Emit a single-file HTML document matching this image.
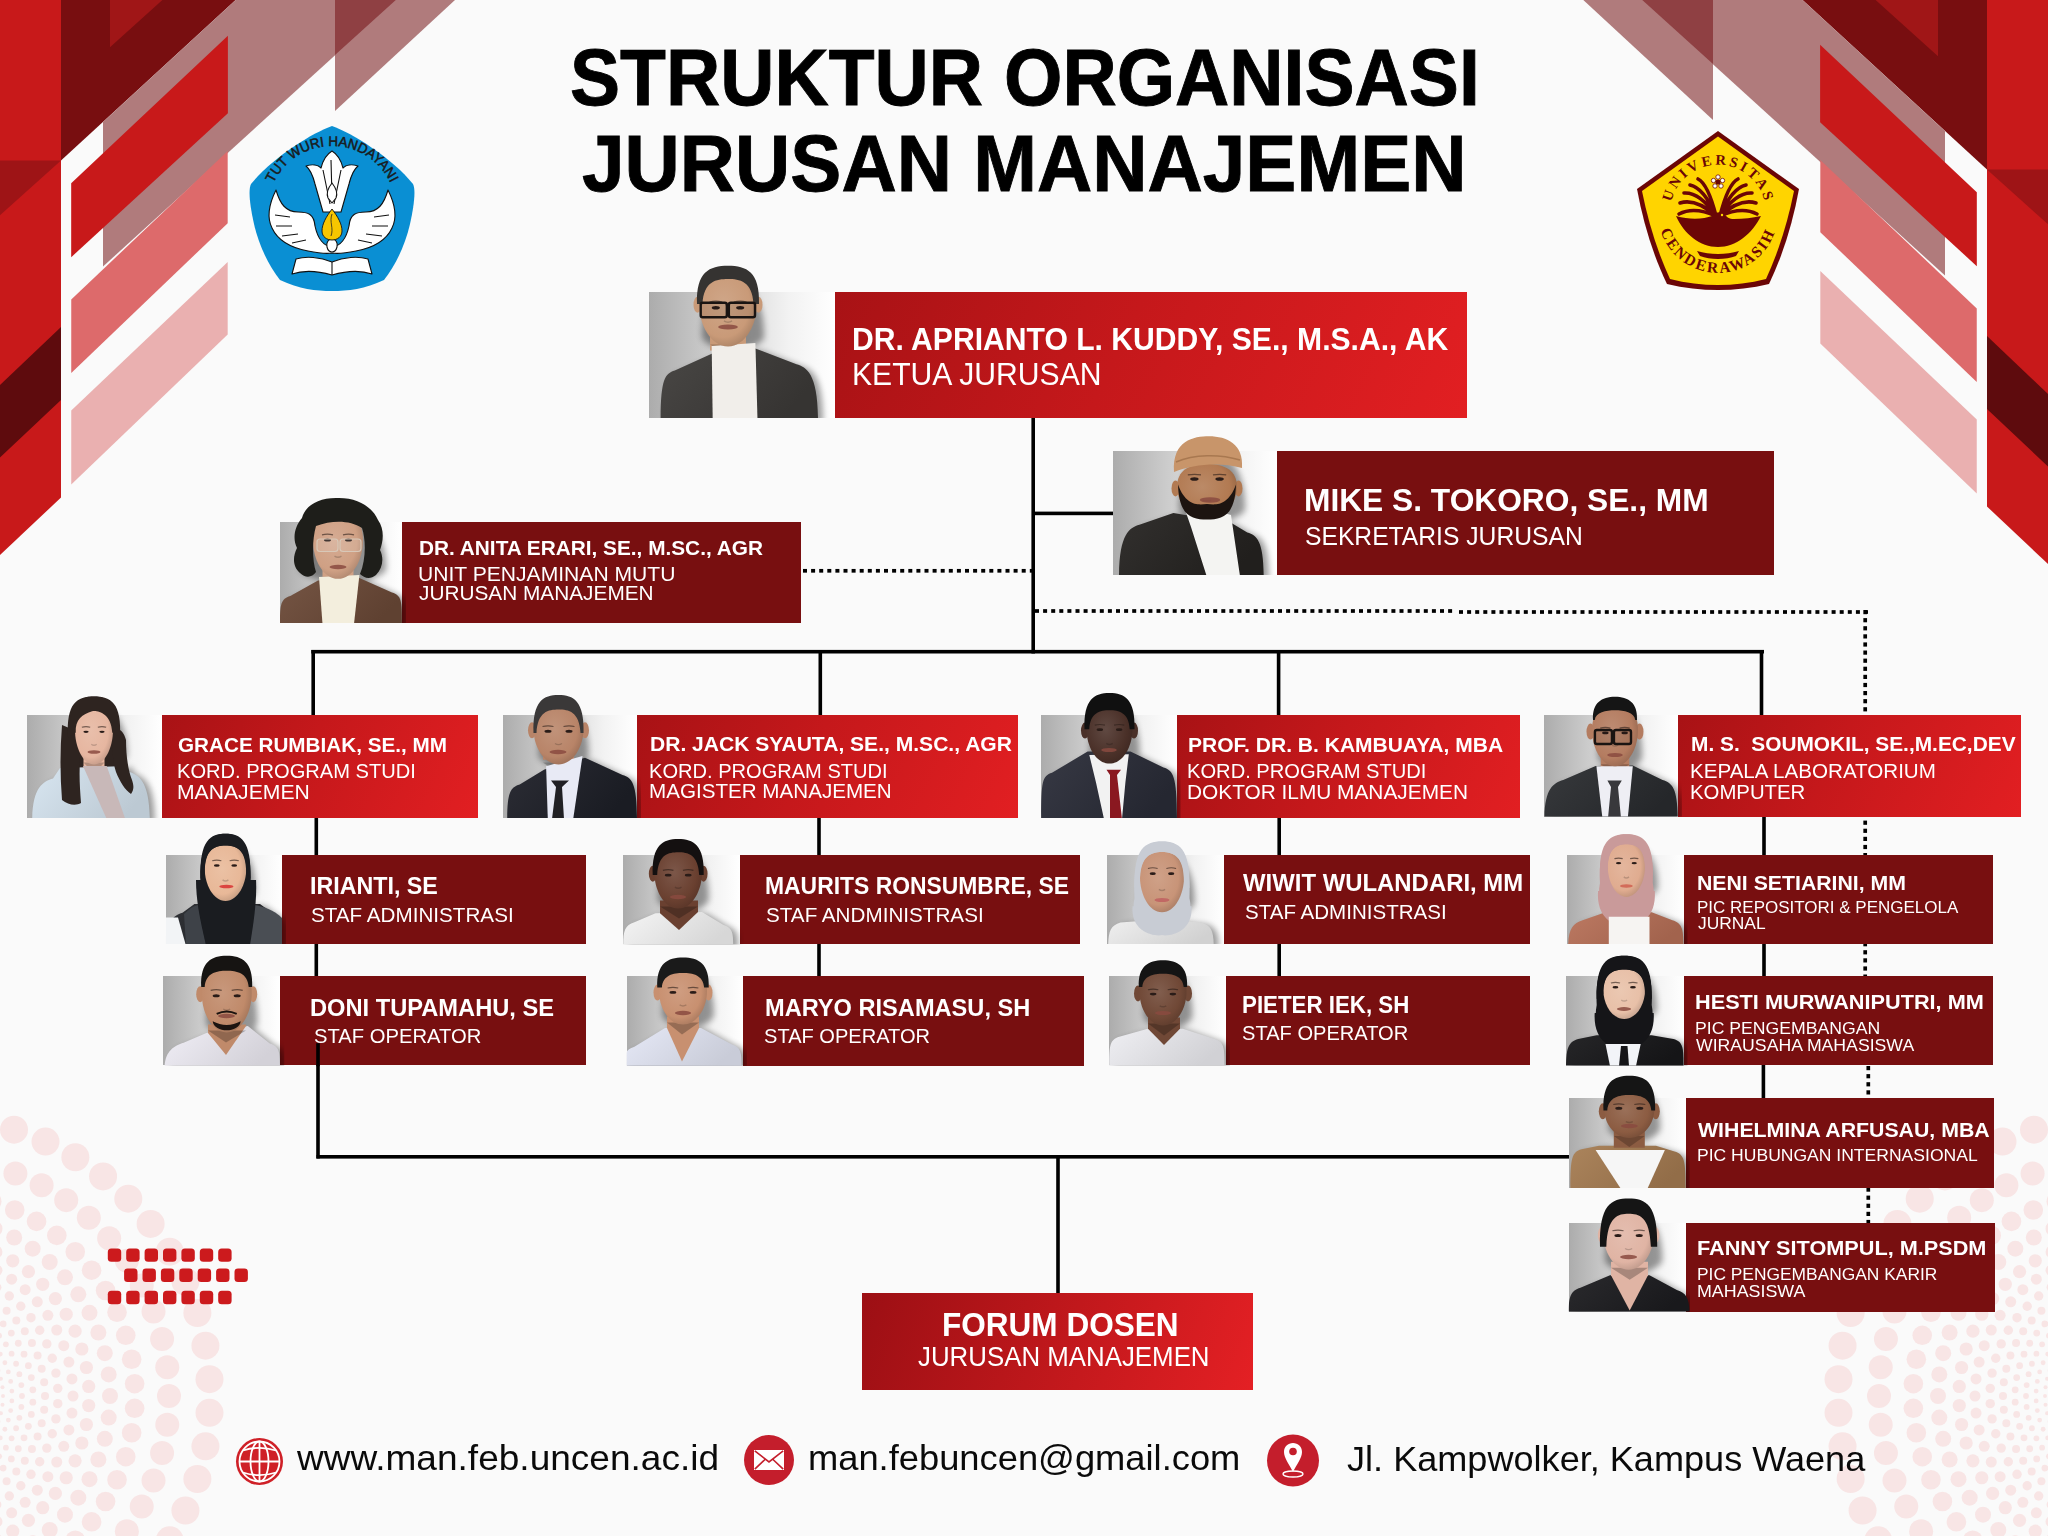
<!DOCTYPE html>
<html><head><meta charset="utf-8"><title>Struktur Organisasi Jurusan Manajemen</title>
<style>
*{margin:0;padding:0;box-sizing:border-box}
html,body{width:2048px;height:1536px;overflow:hidden;background:#FAFAFA}
body{position:relative;font-family:"Liberation Sans",sans-serif}
.ph,.bg,.bd,.t{position:absolute}
.ph{background:linear-gradient(90deg,#ACACAC 0%,#C9C9C9 30%,#F2F2F2 75%,#FFFFFF 100%)}
.bg{background:linear-gradient(115deg,#A81215 0%,#C5181B 45%,#E21F22 100%)}
.bd{background:#780F10}
.t{white-space:nowrap;transform-origin:0 0;font-weight:400}
.b{font-weight:700}
.tt{-webkit-text-stroke:0.9px #000}
svg{position:absolute;left:0;top:0;overflow:visible}
</style></head><body>
<svg width="2048" height="1536" viewBox="0 0 2048 1536">
<defs><filter id="shblur" x="-20%" y="-20%" width="140%" height="140%"><feGaussianBlur stdDeviation="3"/></filter></defs>
<g fill="#F8E5E5"><circle cx="3" cy="1396" r="2"/><circle cx="2.48" cy="1404.68" r="2"/><circle cx="0.91" cy="1413.23" r="2"/><circle cx="-1.68" cy="1421.53" r="2"/><circle cx="-5.25" cy="1429.46" r="2"/><circle cx="-9.75" cy="1436.9" r="2"/><circle cx="-15.11" cy="1443.74" r="2"/><circle cx="-15.11" cy="1348.26" r="2"/><circle cx="-9.75" cy="1355.1" r="2"/><circle cx="-5.25" cy="1362.54" r="2"/><circle cx="-1.68" cy="1370.47" r="2"/><circle cx="0.91" cy="1378.77" r="2"/><circle cx="2.48" cy="1387.32" r="2"/><circle cx="11.85" cy="1400.89" r="2.4"/><circle cx="10.67" cy="1410.6" r="2.4"/><circle cx="8.33" cy="1420.1" r="2.4"/><circle cx="4.86" cy="1429.24" r="2.4"/><circle cx="0.32" cy="1437.9" r="2.4"/><circle cx="-5.24" cy="1445.95" r="2.4"/><circle cx="-11.72" cy="1453.28" r="2.4"/><circle cx="-19.05" cy="1459.76" r="2.4"/><circle cx="-19.05" cy="1332.24" r="2.4"/><circle cx="-11.72" cy="1338.72" r="2.4"/><circle cx="-5.24" cy="1346.05" r="2.4"/><circle cx="0.32" cy="1354.1" r="2.4"/><circle cx="4.86" cy="1362.76" r="2.4"/><circle cx="8.33" cy="1371.9" r="2.4"/><circle cx="10.67" cy="1381.4" r="2.4"/><circle cx="11.85" cy="1391.11" r="2.4"/><circle cx="22" cy="1396" r="2.9"/><circle cx="21.34" cy="1406.97" r="2.9"/><circle cx="19.36" cy="1417.78" r="2.9"/><circle cx="16.09" cy="1428.27" r="2.9"/><circle cx="11.58" cy="1438.29" r="2.9"/><circle cx="5.89" cy="1447.69" r="2.9"/><circle cx="-0.89" cy="1456.34" r="2.9"/><circle cx="-8.66" cy="1464.11" r="2.9"/><circle cx="-17.31" cy="1470.89" r="2.9"/><circle cx="-17.31" cy="1321.11" r="2.9"/><circle cx="-8.66" cy="1327.89" r="2.9"/><circle cx="-0.89" cy="1335.66" r="2.9"/><circle cx="5.89" cy="1344.31" r="2.9"/><circle cx="11.58" cy="1353.71" r="2.9"/><circle cx="16.09" cy="1363.73" r="2.9"/><circle cx="19.36" cy="1374.22" r="2.9"/><circle cx="21.34" cy="1385.03" r="2.9"/><circle cx="32.81" cy="1402.16" r="3.4"/><circle cx="31.33" cy="1414.39" r="3.4"/><circle cx="28.38" cy="1426.35" r="3.4"/><circle cx="24.01" cy="1437.86" r="3.4"/><circle cx="18.29" cy="1448.77" r="3.4"/><circle cx="11.29" cy="1458.91" r="3.4"/><circle cx="3.12" cy="1468.12" r="3.4"/><circle cx="-6.09" cy="1476.29" r="3.4"/><circle cx="-16.23" cy="1483.29" r="3.4"/><circle cx="-16.23" cy="1308.71" r="3.4"/><circle cx="-6.09" cy="1315.71" r="3.4"/><circle cx="3.12" cy="1323.88" r="3.4"/><circle cx="11.29" cy="1333.09" r="3.4"/><circle cx="18.29" cy="1343.23" r="3.4"/><circle cx="24.01" cy="1354.14" r="3.4"/><circle cx="28.38" cy="1365.65" r="3.4"/><circle cx="31.33" cy="1377.61" r="3.4"/><circle cx="32.81" cy="1389.84" r="3.4"/><circle cx="45" cy="1396" r="4"/><circle cx="44.17" cy="1409.74" r="4"/><circle cx="41.69" cy="1423.28" r="4"/><circle cx="37.59" cy="1436.42" r="4"/><circle cx="31.94" cy="1448.98" r="4"/><circle cx="24.82" cy="1460.76" r="4"/><circle cx="16.33" cy="1471.6" r="4"/><circle cx="6.6" cy="1481.33" r="4"/><circle cx="-4.24" cy="1489.82" r="4"/><circle cx="-16.02" cy="1496.94" r="4"/><circle cx="-16.02" cy="1295.06" r="4"/><circle cx="-4.24" cy="1302.18" r="4"/><circle cx="6.6" cy="1310.67" r="4"/><circle cx="16.33" cy="1320.4" r="4"/><circle cx="24.82" cy="1331.24" r="4"/><circle cx="31.94" cy="1343.02" r="4"/><circle cx="37.59" cy="1355.58" r="4"/><circle cx="41.69" cy="1368.72" r="4"/><circle cx="44.17" cy="1382.26" r="4"/><circle cx="57.77" cy="1403.67" r="4.7"/><circle cx="55.92" cy="1418.89" r="4.7"/><circle cx="52.25" cy="1433.78" r="4.7"/><circle cx="46.81" cy="1448.12" r="4.7"/><circle cx="39.68" cy="1461.7" r="4.7"/><circle cx="30.97" cy="1474.32" r="4.7"/><circle cx="20.8" cy="1485.8" r="4.7"/><circle cx="9.32" cy="1495.97" r="4.7"/><circle cx="-3.3" cy="1504.68" r="4.7"/><circle cx="-16.88" cy="1511.81" r="4.7"/><circle cx="-16.88" cy="1280.19" r="4.7"/><circle cx="-3.3" cy="1287.32" r="4.7"/><circle cx="9.32" cy="1296.03" r="4.7"/><circle cx="20.8" cy="1306.2" r="4.7"/><circle cx="30.97" cy="1317.68" r="4.7"/><circle cx="39.68" cy="1330.3" r="4.7"/><circle cx="46.81" cy="1343.88" r="4.7"/><circle cx="52.25" cy="1358.22" r="4.7"/><circle cx="55.92" cy="1373.11" r="4.7"/><circle cx="57.77" cy="1388.33" r="4.7"/><circle cx="73" cy="1396" r="5.5"/><circle cx="71.96" cy="1413.12" r="5.5"/><circle cx="68.87" cy="1429.98" r="5.5"/><circle cx="63.77" cy="1446.35" r="5.5"/><circle cx="56.73" cy="1461.99" r="5.5"/><circle cx="47.86" cy="1476.67" r="5.5"/><circle cx="37.29" cy="1490.16" r="5.5"/><circle cx="25.16" cy="1502.29" r="5.5"/><circle cx="11.67" cy="1512.86" r="5.5"/><circle cx="-3.01" cy="1521.73" r="5.5"/><circle cx="-18.65" cy="1528.77" r="5.5"/><circle cx="-18.65" cy="1263.23" r="5.5"/><circle cx="-3.01" cy="1270.27" r="5.5"/><circle cx="11.67" cy="1279.14" r="5.5"/><circle cx="25.16" cy="1289.71" r="5.5"/><circle cx="37.29" cy="1301.84" r="5.5"/><circle cx="47.86" cy="1315.33" r="5.5"/><circle cx="56.73" cy="1330.01" r="5.5"/><circle cx="63.77" cy="1345.65" r="5.5"/><circle cx="68.87" cy="1362.02" r="5.5"/><circle cx="71.96" cy="1378.88" r="5.5"/><circle cx="88.71" cy="1405.54" r="6.6"/><circle cx="86.41" cy="1424.48" r="6.6"/><circle cx="81.85" cy="1443.01" r="6.6"/><circle cx="75.08" cy="1460.85" r="6.6"/><circle cx="66.21" cy="1477.74" r="6.6"/><circle cx="55.37" cy="1493.44" r="6.6"/><circle cx="42.72" cy="1507.72" r="6.6"/><circle cx="28.44" cy="1520.37" r="6.6"/><circle cx="12.74" cy="1531.21" r="6.6"/><circle cx="-4.15" cy="1540.08" r="6.6"/><circle cx="-4.15" cy="1251.92" r="6.6"/><circle cx="12.74" cy="1260.79" r="6.6"/><circle cx="28.44" cy="1271.63" r="6.6"/><circle cx="42.72" cy="1284.28" r="6.6"/><circle cx="55.37" cy="1298.56" r="6.6"/><circle cx="66.21" cy="1314.26" r="6.6"/><circle cx="75.08" cy="1331.15" r="6.6"/><circle cx="81.85" cy="1348.99" r="6.6"/><circle cx="86.41" cy="1367.52" r="6.6"/><circle cx="88.71" cy="1386.46" r="6.6"/><circle cx="110" cy="1396" r="8"/><circle cx="108.69" cy="1417.58" r="8"/><circle cx="104.8" cy="1438.84" r="8"/><circle cx="98.37" cy="1459.47" r="8"/><circle cx="89.5" cy="1479.19" r="8"/><circle cx="78.31" cy="1497.68" r="8"/><circle cx="64.98" cy="1514.7" r="8"/><circle cx="49.7" cy="1529.98" r="8"/><circle cx="32.68" cy="1543.31" r="8"/><circle cx="14.19" cy="1554.5" r="8"/><circle cx="-5.53" cy="1228.63" r="8"/><circle cx="14.19" cy="1237.5" r="8"/><circle cx="32.68" cy="1248.69" r="8"/><circle cx="49.7" cy="1262.02" r="8"/><circle cx="64.98" cy="1277.3" r="8"/><circle cx="78.31" cy="1294.32" r="8"/><circle cx="89.5" cy="1312.81" r="8"/><circle cx="98.37" cy="1332.53" r="8"/><circle cx="104.8" cy="1353.16" r="8"/><circle cx="108.69" cy="1374.42" r="8"/><circle cx="134.63" cy="1408.32" r="9.8"/><circle cx="131.66" cy="1432.77" r="9.8"/><circle cx="125.76" cy="1456.69" r="9.8"/><circle cx="117.03" cy="1479.72" r="9.8"/><circle cx="105.58" cy="1501.54" r="9.8"/><circle cx="91.59" cy="1521.81" r="9.8"/><circle cx="75.25" cy="1540.25" r="9.8"/><circle cx="56.81" cy="1556.59" r="9.8"/><circle cx="-8.31" cy="1201.24" r="9.8"/><circle cx="14.72" cy="1209.97" r="9.8"/><circle cx="36.54" cy="1221.42" r="9.8"/><circle cx="56.81" cy="1235.41" r="9.8"/><circle cx="75.25" cy="1251.75" r="9.8"/><circle cx="91.59" cy="1270.19" r="9.8"/><circle cx="105.58" cy="1290.46" r="9.8"/><circle cx="117.03" cy="1312.28" r="9.8"/><circle cx="125.76" cy="1335.31" r="9.8"/><circle cx="131.66" cy="1359.23" r="9.8"/><circle cx="134.63" cy="1383.68" r="9.8"/><circle cx="169" cy="1396" r="12"/><circle cx="167.26" cy="1424.69" r="12"/><circle cx="162.08" cy="1452.96" r="12"/><circle cx="153.53" cy="1480.4" r="12"/><circle cx="141.74" cy="1506.6" r="12"/><circle cx="126.87" cy="1531.2" r="12"/><circle cx="109.15" cy="1553.82" r="12"/><circle cx="-12.04" cy="1164.92" r="12"/><circle cx="15.4" cy="1173.47" r="12"/><circle cx="41.6" cy="1185.26" r="12"/><circle cx="66.2" cy="1200.13" r="12"/><circle cx="88.82" cy="1217.85" r="12"/><circle cx="109.15" cy="1238.18" r="12"/><circle cx="126.87" cy="1260.8" r="12"/><circle cx="141.74" cy="1285.4" r="12"/><circle cx="153.53" cy="1311.6" r="12"/><circle cx="162.08" cy="1339.04" r="12"/><circle cx="167.26" cy="1367.31" r="12"/><circle cx="209.49" cy="1412.85" r="14"/><circle cx="205.43" cy="1446.29" r="14"/><circle cx="197.37" cy="1479" r="14"/><circle cx="185.42" cy="1510.51" r="14"/><circle cx="169.76" cy="1540.34" r="14"/><circle cx="-18.71" cy="1121.57" r="14"/><circle cx="14" cy="1129.63" r="14"/><circle cx="45.51" cy="1141.58" r="14"/><circle cx="75.34" cy="1157.24" r="14"/><circle cx="103.06" cy="1176.38" r="14"/><circle cx="128.28" cy="1198.72" r="14"/><circle cx="150.62" cy="1223.94" r="14"/><circle cx="169.76" cy="1251.66" r="14"/><circle cx="185.42" cy="1281.49" r="14"/><circle cx="197.37" cy="1313" r="14"/><circle cx="205.43" cy="1345.71" r="14"/><circle cx="209.49" cy="1379.15" r="14"/><circle cx="2045" cy="1396" r="2"/><circle cx="2045.52" cy="1404.68" r="2"/><circle cx="2047.09" cy="1413.23" r="2"/><circle cx="2049.68" cy="1421.53" r="2"/><circle cx="2053.25" cy="1429.46" r="2"/><circle cx="2057.75" cy="1436.9" r="2"/><circle cx="2063.11" cy="1443.74" r="2"/><circle cx="2063.11" cy="1348.26" r="2"/><circle cx="2057.75" cy="1355.1" r="2"/><circle cx="2053.25" cy="1362.54" r="2"/><circle cx="2049.68" cy="1370.47" r="2"/><circle cx="2047.09" cy="1378.77" r="2"/><circle cx="2045.52" cy="1387.32" r="2"/><circle cx="2036.15" cy="1400.89" r="2.4"/><circle cx="2037.33" cy="1410.6" r="2.4"/><circle cx="2039.67" cy="1420.1" r="2.4"/><circle cx="2043.14" cy="1429.24" r="2.4"/><circle cx="2047.68" cy="1437.9" r="2.4"/><circle cx="2053.24" cy="1445.95" r="2.4"/><circle cx="2059.72" cy="1453.28" r="2.4"/><circle cx="2067.05" cy="1459.76" r="2.4"/><circle cx="2067.05" cy="1332.24" r="2.4"/><circle cx="2059.72" cy="1338.72" r="2.4"/><circle cx="2053.24" cy="1346.05" r="2.4"/><circle cx="2047.68" cy="1354.1" r="2.4"/><circle cx="2043.14" cy="1362.76" r="2.4"/><circle cx="2039.67" cy="1371.9" r="2.4"/><circle cx="2037.33" cy="1381.4" r="2.4"/><circle cx="2036.15" cy="1391.11" r="2.4"/><circle cx="2026" cy="1396" r="2.9"/><circle cx="2026.66" cy="1406.97" r="2.9"/><circle cx="2028.64" cy="1417.78" r="2.9"/><circle cx="2031.91" cy="1428.27" r="2.9"/><circle cx="2036.42" cy="1438.29" r="2.9"/><circle cx="2042.11" cy="1447.69" r="2.9"/><circle cx="2048.89" cy="1456.34" r="2.9"/><circle cx="2056.66" cy="1464.11" r="2.9"/><circle cx="2065.31" cy="1470.89" r="2.9"/><circle cx="2065.31" cy="1321.11" r="2.9"/><circle cx="2056.66" cy="1327.89" r="2.9"/><circle cx="2048.89" cy="1335.66" r="2.9"/><circle cx="2042.11" cy="1344.31" r="2.9"/><circle cx="2036.42" cy="1353.71" r="2.9"/><circle cx="2031.91" cy="1363.73" r="2.9"/><circle cx="2028.64" cy="1374.22" r="2.9"/><circle cx="2026.66" cy="1385.03" r="2.9"/><circle cx="2015.19" cy="1402.16" r="3.4"/><circle cx="2016.67" cy="1414.39" r="3.4"/><circle cx="2019.62" cy="1426.35" r="3.4"/><circle cx="2023.99" cy="1437.86" r="3.4"/><circle cx="2029.71" cy="1448.77" r="3.4"/><circle cx="2036.71" cy="1458.91" r="3.4"/><circle cx="2044.88" cy="1468.12" r="3.4"/><circle cx="2054.09" cy="1476.29" r="3.4"/><circle cx="2064.23" cy="1483.29" r="3.4"/><circle cx="2064.23" cy="1308.71" r="3.4"/><circle cx="2054.09" cy="1315.71" r="3.4"/><circle cx="2044.88" cy="1323.88" r="3.4"/><circle cx="2036.71" cy="1333.09" r="3.4"/><circle cx="2029.71" cy="1343.23" r="3.4"/><circle cx="2023.99" cy="1354.14" r="3.4"/><circle cx="2019.62" cy="1365.65" r="3.4"/><circle cx="2016.67" cy="1377.61" r="3.4"/><circle cx="2015.19" cy="1389.84" r="3.4"/><circle cx="2003" cy="1396" r="4"/><circle cx="2003.83" cy="1409.74" r="4"/><circle cx="2006.31" cy="1423.28" r="4"/><circle cx="2010.41" cy="1436.42" r="4"/><circle cx="2016.06" cy="1448.98" r="4"/><circle cx="2023.18" cy="1460.76" r="4"/><circle cx="2031.67" cy="1471.6" r="4"/><circle cx="2041.4" cy="1481.33" r="4"/><circle cx="2052.24" cy="1489.82" r="4"/><circle cx="2064.02" cy="1496.94" r="4"/><circle cx="2064.02" cy="1295.06" r="4"/><circle cx="2052.24" cy="1302.18" r="4"/><circle cx="2041.4" cy="1310.67" r="4"/><circle cx="2031.67" cy="1320.4" r="4"/><circle cx="2023.18" cy="1331.24" r="4"/><circle cx="2016.06" cy="1343.02" r="4"/><circle cx="2010.41" cy="1355.58" r="4"/><circle cx="2006.31" cy="1368.72" r="4"/><circle cx="2003.83" cy="1382.26" r="4"/><circle cx="1990.23" cy="1403.67" r="4.7"/><circle cx="1992.08" cy="1418.89" r="4.7"/><circle cx="1995.75" cy="1433.78" r="4.7"/><circle cx="2001.19" cy="1448.12" r="4.7"/><circle cx="2008.32" cy="1461.7" r="4.7"/><circle cx="2017.03" cy="1474.32" r="4.7"/><circle cx="2027.2" cy="1485.8" r="4.7"/><circle cx="2038.68" cy="1495.97" r="4.7"/><circle cx="2051.3" cy="1504.68" r="4.7"/><circle cx="2064.88" cy="1511.81" r="4.7"/><circle cx="2064.88" cy="1280.19" r="4.7"/><circle cx="2051.3" cy="1287.32" r="4.7"/><circle cx="2038.68" cy="1296.03" r="4.7"/><circle cx="2027.2" cy="1306.2" r="4.7"/><circle cx="2017.03" cy="1317.68" r="4.7"/><circle cx="2008.32" cy="1330.3" r="4.7"/><circle cx="2001.19" cy="1343.88" r="4.7"/><circle cx="1995.75" cy="1358.22" r="4.7"/><circle cx="1992.08" cy="1373.11" r="4.7"/><circle cx="1990.23" cy="1388.33" r="4.7"/><circle cx="1975" cy="1396" r="5.5"/><circle cx="1976.04" cy="1413.12" r="5.5"/><circle cx="1979.13" cy="1429.98" r="5.5"/><circle cx="1984.23" cy="1446.35" r="5.5"/><circle cx="1991.27" cy="1461.99" r="5.5"/><circle cx="2000.14" cy="1476.67" r="5.5"/><circle cx="2010.71" cy="1490.16" r="5.5"/><circle cx="2022.84" cy="1502.29" r="5.5"/><circle cx="2036.33" cy="1512.86" r="5.5"/><circle cx="2051.01" cy="1521.73" r="5.5"/><circle cx="2066.65" cy="1528.77" r="5.5"/><circle cx="2066.65" cy="1263.23" r="5.5"/><circle cx="2051.01" cy="1270.27" r="5.5"/><circle cx="2036.33" cy="1279.14" r="5.5"/><circle cx="2022.84" cy="1289.71" r="5.5"/><circle cx="2010.71" cy="1301.84" r="5.5"/><circle cx="2000.14" cy="1315.33" r="5.5"/><circle cx="1991.27" cy="1330.01" r="5.5"/><circle cx="1984.23" cy="1345.65" r="5.5"/><circle cx="1979.13" cy="1362.02" r="5.5"/><circle cx="1976.04" cy="1378.88" r="5.5"/><circle cx="1959.29" cy="1405.54" r="6.6"/><circle cx="1961.59" cy="1424.48" r="6.6"/><circle cx="1966.15" cy="1443.01" r="6.6"/><circle cx="1972.92" cy="1460.85" r="6.6"/><circle cx="1981.79" cy="1477.74" r="6.6"/><circle cx="1992.63" cy="1493.44" r="6.6"/><circle cx="2005.28" cy="1507.72" r="6.6"/><circle cx="2019.56" cy="1520.37" r="6.6"/><circle cx="2035.26" cy="1531.21" r="6.6"/><circle cx="2052.15" cy="1540.08" r="6.6"/><circle cx="2052.15" cy="1251.92" r="6.6"/><circle cx="2035.26" cy="1260.79" r="6.6"/><circle cx="2019.56" cy="1271.63" r="6.6"/><circle cx="2005.28" cy="1284.28" r="6.6"/><circle cx="1992.63" cy="1298.56" r="6.6"/><circle cx="1981.79" cy="1314.26" r="6.6"/><circle cx="1972.92" cy="1331.15" r="6.6"/><circle cx="1966.15" cy="1348.99" r="6.6"/><circle cx="1961.59" cy="1367.52" r="6.6"/><circle cx="1959.29" cy="1386.46" r="6.6"/><circle cx="1938" cy="1396" r="8"/><circle cx="1939.31" cy="1417.58" r="8"/><circle cx="1943.2" cy="1438.84" r="8"/><circle cx="1949.63" cy="1459.47" r="8"/><circle cx="1958.5" cy="1479.19" r="8"/><circle cx="1969.69" cy="1497.68" r="8"/><circle cx="1983.02" cy="1514.7" r="8"/><circle cx="1998.3" cy="1529.98" r="8"/><circle cx="2015.32" cy="1543.31" r="8"/><circle cx="2033.81" cy="1554.5" r="8"/><circle cx="2053.53" cy="1228.63" r="8"/><circle cx="2033.81" cy="1237.5" r="8"/><circle cx="2015.32" cy="1248.69" r="8"/><circle cx="1998.3" cy="1262.02" r="8"/><circle cx="1983.02" cy="1277.3" r="8"/><circle cx="1969.69" cy="1294.32" r="8"/><circle cx="1958.5" cy="1312.81" r="8"/><circle cx="1949.63" cy="1332.53" r="8"/><circle cx="1943.2" cy="1353.16" r="8"/><circle cx="1939.31" cy="1374.42" r="8"/><circle cx="1913.37" cy="1408.32" r="9.8"/><circle cx="1916.34" cy="1432.77" r="9.8"/><circle cx="1922.24" cy="1456.69" r="9.8"/><circle cx="1930.97" cy="1479.72" r="9.8"/><circle cx="1942.42" cy="1501.54" r="9.8"/><circle cx="1956.41" cy="1521.81" r="9.8"/><circle cx="1972.75" cy="1540.25" r="9.8"/><circle cx="1991.19" cy="1556.59" r="9.8"/><circle cx="2056.31" cy="1201.24" r="9.8"/><circle cx="2033.28" cy="1209.97" r="9.8"/><circle cx="2011.46" cy="1221.42" r="9.8"/><circle cx="1991.19" cy="1235.41" r="9.8"/><circle cx="1972.75" cy="1251.75" r="9.8"/><circle cx="1956.41" cy="1270.19" r="9.8"/><circle cx="1942.42" cy="1290.46" r="9.8"/><circle cx="1930.97" cy="1312.28" r="9.8"/><circle cx="1922.24" cy="1335.31" r="9.8"/><circle cx="1916.34" cy="1359.23" r="9.8"/><circle cx="1913.37" cy="1383.68" r="9.8"/><circle cx="1879" cy="1396" r="12"/><circle cx="1880.74" cy="1424.69" r="12"/><circle cx="1885.92" cy="1452.96" r="12"/><circle cx="1894.47" cy="1480.4" r="12"/><circle cx="1906.26" cy="1506.6" r="12"/><circle cx="1921.13" cy="1531.2" r="12"/><circle cx="1938.85" cy="1553.82" r="12"/><circle cx="2060.04" cy="1164.92" r="12"/><circle cx="2032.6" cy="1173.47" r="12"/><circle cx="2006.4" cy="1185.26" r="12"/><circle cx="1981.8" cy="1200.13" r="12"/><circle cx="1959.18" cy="1217.85" r="12"/><circle cx="1938.85" cy="1238.18" r="12"/><circle cx="1921.13" cy="1260.8" r="12"/><circle cx="1906.26" cy="1285.4" r="12"/><circle cx="1894.47" cy="1311.6" r="12"/><circle cx="1885.92" cy="1339.04" r="12"/><circle cx="1880.74" cy="1367.31" r="12"/><circle cx="1838.51" cy="1412.85" r="14"/><circle cx="1842.57" cy="1446.29" r="14"/><circle cx="1850.63" cy="1479" r="14"/><circle cx="1862.58" cy="1510.51" r="14"/><circle cx="1878.24" cy="1540.34" r="14"/><circle cx="2066.71" cy="1121.57" r="14"/><circle cx="2034" cy="1129.63" r="14"/><circle cx="2002.49" cy="1141.58" r="14"/><circle cx="1972.66" cy="1157.24" r="14"/><circle cx="1944.94" cy="1176.38" r="14"/><circle cx="1919.72" cy="1198.72" r="14"/><circle cx="1897.38" cy="1223.94" r="14"/><circle cx="1878.24" cy="1251.66" r="14"/><circle cx="1862.58" cy="1281.49" r="14"/><circle cx="1850.63" cy="1313" r="14"/><circle cx="1842.57" cy="1345.71" r="14"/><circle cx="1838.51" cy="1379.15" r="14"/></g>
<g><polygon fill="#C8191A" points="0,-20 61,-20 61,497.5 0,555"/><polygon fill="#9E1416" points="0,160.5 61,160.5 0,215.3"/><polygon fill="#5E0B0D" points="0,385 61,327 61,400 0,457.5"/><polygon fill="#780E10" points="61,-20 257.4,-20 61,160.5"/><polygon fill="#A01617" points="110,-20 184.6,-20 110,47.2"/><polygon fill="#B07B7C" points="103,121.9 257.4,-20 417.8,-20 103,266.5"/><polygon fill="#B07B7C" points="335,-20 476.6,-20 335,111"/><polygon fill="#8F4043" points="335,-20 417.9,-20 335,55"/><polygon fill="#C8191A" points="71.2,183.2 227.9,35.7 227.9,113.3 71.2,257.2"/><polygon fill="#DD6A6B" points="71.25,299.6 227.7,151 227.7,223.2 71.25,372.9"/><polygon fill="#EAB0B0" points="71.25,410.4 227.7,262 227.7,334.6 71.25,484.6"/></g>
<g transform="translate(2048,9) scale(-1,1)"><polygon fill="#C8191A" points="0,-20 61,-20 61,497.5 0,555"/><polygon fill="#9E1416" points="0,160.5 61,160.5 0,215.3"/><polygon fill="#5E0B0D" points="0,385 61,327 61,400 0,457.5"/><polygon fill="#780E10" points="61,-20 257.4,-20 61,160.5"/><polygon fill="#A01617" points="110,-20 184.6,-20 110,47.2"/><polygon fill="#B07B7C" points="103,121.9 257.4,-20 417.8,-20 103,266.5"/><polygon fill="#B07B7C" points="335,-20 476.6,-20 335,111"/><polygon fill="#8F4043" points="335,-20 417.9,-20 335,55"/><polygon fill="#C8191A" points="71.2,183.2 227.9,35.7 227.9,113.3 71.2,257.2"/><polygon fill="#DD6A6B" points="71.25,299.6 227.7,151 227.7,223.2 71.25,372.9"/><polygon fill="#EAB0B0" points="71.25,410.4 227.7,262 227.7,334.6 71.25,484.6"/></g>
<g>
<defs><path id="twarc" d="M273.45,183.3 A64.6,64.6 0 0 1 390.55,183.3"/></defs>
<path fill="#0A8FD3" d="M332,126 C352,133 392,158 413,184 C416,190 414,206 410,224 C405,246 395,266 384,280 C365,289 348,291 332,291 C316,291 299,289 280,280 C269,266 259,246 254,224 C250,206 248,190 251,184 C272,158 312,133 332,126 Z"/>
<text font-family="Liberation Sans" font-size="14" font-weight="400" fill="#1a1a1a" stroke="#1a1a1a" stroke-width="0.5"><textPath href="#twarc" textLength="146" lengthAdjust="spacingAndGlyphs">TUT WURI HANDAYANI</textPath></text>
<g stroke="#111" stroke-width="1.1" stroke-linejoin="round">
<path fill="#fff" d="M306,166 C312,164 318,165 321,168 C323,160 327,154 332,151 C337,154 341,160 343,168 C346,165 352,164 358,166 C353,170 351,176 349,184 L341,212 L323,212 L315,184 C313,176 311,170 306,166 Z"/>
<path fill="none" d="M323,170 L330,204 M341,170 L334,204 M331,160 L332,198"/>
<path fill="#fff" d="M332,183 C336,188 338,193 336,198 L332,203 L328,198 C326,193 328,188 332,183 Z"/>
<path fill="#fff" d="M276,190 C270,202 266,216 272,228 C278,241 292,248 308,251 C318,253 326,254 332,253 C338,254 346,253 356,251 C372,248 386,241 392,228 C398,216 394,202 388,190 C384,204 378,212 366,212 C356,212 350,214 349,226 C346,240 340,246 332,247 C324,246 318,240 315,226 C314,214 308,212 298,212 C286,212 280,204 276,190 Z"/>
<path fill="none" d="M275,215 L290,217 M276,226 L292,226 M282,236 L298,234 M292,243 L306,240 M389,215 L374,217 M388,226 L372,226 M382,236 L366,234 M372,243 L358,240"/>
<path fill="#fff" d="M332,239 C336,239 338,243 337,247 C336,251 334,252 332,252 C330,252 328,251 327,247 C326,243 328,239 332,239 Z"/>
<path fill="#fff" d="M296,259 C306,256 320,257 332,262 C344,257 358,256 368,259 L372,274 C360,270 346,271 332,275 C318,271 304,270 292,274 Z"/>
<path fill="none" d="M332,262 L332,275"/>
</g>
<path fill="#F7C600" stroke="#111" stroke-width="0.9" d="M332,209 C338,217 342,224 342,231 C342,237 337,240 332,240 C327,240 322,237 322,231 C322,224 326,217 332,209 Z"/>
<path fill="none" stroke="#222" stroke-width="0.8" d="M332,214 C329,222 334,228 331,236"/>
</g>
<g>
<defs>
<path id="unarc1" d="M1671.0,203.0 A48,48 0 0 1 1765.0,203.0"/>
<path id="unarc2" d="M1659.8,227.5 A60,60 0 0 0 1776.2,227.5"/>
</defs>
<path fill="#6B0606" d="M1718,131 L1799,189 C1793,222 1783,255 1769,284 C1752,288 1735,290 1718,290 C1701,290 1684,288 1667,284 C1653,255 1643,222 1637,189 Z"/>
<path fill="#FFD400" d="M1718,136.5 L1794,191 C1788,221 1779,251 1766,279 C1750,283 1734,285 1718,285 C1702,285 1686,283 1670,279 C1657,251 1648,221 1642,191 Z"/>
<text font-family="Liberation Serif" font-size="14.5" font-weight="700" fill="#6B0606"><textPath href="#unarc1" textLength="128" lengthAdjust="spacing" startOffset="1">UNIVERSITAS</textPath></text>
<text font-family="Liberation Serif" font-size="15.5" font-weight="700" fill="#6B0606"><textPath href="#unarc2" textLength="150" lengthAdjust="spacing" startOffset="3">CENDERAWASIH</textPath></text>
<path fill="none" stroke="#6B0606" stroke-width="3.6" stroke-linecap="round" d="M1716,216 Q1694,206 1679,214 M1720,216 Q1742,206 1757,214 M1716,216 Q1696,198 1680,203 M1720,216 Q1740,198 1756,203 M1716,216 Q1700,192 1684,193 M1720,216 Q1736,192 1752,193 M1716,216 Q1704,188 1690,185 M1720,216 Q1732,188 1746,185 M1716,216 Q1708,184 1698,179 M1720,216 Q1728,184 1738,179"/>
<g fill="#6B0606">
<path d="M1676,216 C1690,220 1704,219 1712,216 C1715,212 1721,211 1724,214 C1727,217 1729,219 1734,219 C1744,219 1752,218 1761,216 C1752,234 1736,247 1718,247 C1700,247 1684,234 1676,216 Z"/>
<path d="M1697,251 C1710,255 1726,255 1739,251 L1736,256 C1726,260 1710,260 1700,256 Z"/>
</g>
<circle cx="1722" cy="215" r="1.2" fill="#FFD400"/>
<g fill="#fff" stroke="#6B0606" stroke-width="0.8">
<circle cx="1718" cy="177" r="2.2"/><circle cx="1722.5" cy="180.5" r="2.2"/><circle cx="1721" cy="186" r="2.2"/><circle cx="1715" cy="186" r="2.2"/><circle cx="1713.5" cy="180.5" r="2.2"/>
</g>
<circle cx="1718" cy="182" r="2.6" fill="#6B0606"/>
</g>
<g fill="#000"><rect x="1031.4" y="418" width="3.6" height="235.5"/><rect x="1033" y="511.6" width="80" height="3.6"/><rect x="311.3" y="649.9" width="1452.7" height="3.6"/><rect x="311.4" y="650" width="3.6" height="66"/><rect x="818.5" y="650" width="3.6" height="66"/><rect x="1276.8" y="650" width="3.6" height="66"/><rect x="1759.7" y="650" width="3.6" height="66"/><rect x="314.5" y="818" width="3.6" height="38"/><rect x="314.5" y="943" width="3.6" height="35"/><rect x="817.2" y="818" width="3.6" height="38"/><rect x="817.2" y="943" width="3.6" height="35"/><rect x="1277.4" y="818" width="3.6" height="38"/><rect x="1277.4" y="943" width="3.6" height="35"/><rect x="1762.2" y="815" width="3.6" height="41"/><rect x="1762.2" y="943" width="3.6" height="35"/><rect x="1761.6" y="1064" width="3.6" height="35"/><rect x="316.5" y="1155" width="1253.5" height="3.6"/><rect x="316.2" y="1043" width="3.6" height="115.5"/><rect x="1056.2" y="1155" width="3.6" height="139"/><rect x="803" y="568.95" width="4" height="3.7"/><rect x="811.1" y="568.95" width="4" height="3.7"/><rect x="819.2" y="568.95" width="4" height="3.7"/><rect x="827.3" y="568.95" width="4" height="3.7"/><rect x="835.4" y="568.95" width="4" height="3.7"/><rect x="843.5" y="568.95" width="4" height="3.7"/><rect x="851.6" y="568.95" width="4" height="3.7"/><rect x="859.7" y="568.95" width="4" height="3.7"/><rect x="867.8" y="568.95" width="4" height="3.7"/><rect x="875.9" y="568.95" width="4" height="3.7"/><rect x="884" y="568.95" width="4" height="3.7"/><rect x="892.1" y="568.95" width="4" height="3.7"/><rect x="900.2" y="568.95" width="4" height="3.7"/><rect x="908.3" y="568.95" width="4" height="3.7"/><rect x="916.4" y="568.95" width="4" height="3.7"/><rect x="924.5" y="568.95" width="4" height="3.7"/><rect x="932.6" y="568.95" width="4" height="3.7"/><rect x="940.7" y="568.95" width="4" height="3.7"/><rect x="948.8" y="568.95" width="4" height="3.7"/><rect x="956.9" y="568.95" width="4" height="3.7"/><rect x="965" y="568.95" width="4" height="3.7"/><rect x="973.1" y="568.95" width="4" height="3.7"/><rect x="981.2" y="568.95" width="4" height="3.7"/><rect x="989.3" y="568.95" width="4" height="3.7"/><rect x="997.4" y="568.95" width="4" height="3.7"/><rect x="1005.5" y="568.95" width="4" height="3.7"/><rect x="1013.6" y="568.95" width="4" height="3.7"/><rect x="1021.7" y="568.95" width="4" height="3.7"/><rect x="1029.8" y="568.95" width="4" height="3.7"/><rect x="1035" y="609.15" width="4" height="3.7"/><rect x="1043.1" y="609.15" width="4" height="3.7"/><rect x="1051.2" y="609.15" width="4" height="3.7"/><rect x="1059.3" y="609.15" width="4" height="3.7"/><rect x="1067.4" y="609.15" width="4" height="3.7"/><rect x="1075.5" y="609.15" width="4" height="3.7"/><rect x="1083.6" y="609.15" width="4" height="3.7"/><rect x="1091.7" y="609.15" width="4" height="3.7"/><rect x="1099.8" y="609.15" width="4" height="3.7"/><rect x="1107.9" y="609.15" width="4" height="3.7"/><rect x="1116" y="609.15" width="4" height="3.7"/><rect x="1124.1" y="609.15" width="4" height="3.7"/><rect x="1132.2" y="609.15" width="4" height="3.7"/><rect x="1140.3" y="609.15" width="4" height="3.7"/><rect x="1148.4" y="609.15" width="4" height="3.7"/><rect x="1156.5" y="609.15" width="4" height="3.7"/><rect x="1164.6" y="609.15" width="4" height="3.7"/><rect x="1172.7" y="609.15" width="4" height="3.7"/><rect x="1180.8" y="609.15" width="4" height="3.7"/><rect x="1188.9" y="609.15" width="4" height="3.7"/><rect x="1197" y="609.15" width="4" height="3.7"/><rect x="1205.1" y="609.15" width="4" height="3.7"/><rect x="1213.2" y="609.15" width="4" height="3.7"/><rect x="1221.3" y="609.15" width="4" height="3.7"/><rect x="1229.4" y="609.15" width="4" height="3.7"/><rect x="1237.5" y="609.15" width="4" height="3.7"/><rect x="1245.6" y="609.15" width="4" height="3.7"/><rect x="1253.7" y="609.15" width="4" height="3.7"/><rect x="1261.8" y="609.15" width="4" height="3.7"/><rect x="1269.9" y="609.15" width="4" height="3.7"/><rect x="1278" y="609.15" width="4" height="3.7"/><rect x="1286.1" y="609.15" width="4" height="3.7"/><rect x="1294.2" y="609.15" width="4" height="3.7"/><rect x="1302.3" y="609.15" width="4" height="3.7"/><rect x="1310.4" y="609.15" width="4" height="3.7"/><rect x="1318.5" y="609.15" width="4" height="3.7"/><rect x="1326.6" y="609.15" width="4" height="3.7"/><rect x="1334.7" y="609.15" width="4" height="3.7"/><rect x="1342.8" y="609.15" width="4" height="3.7"/><rect x="1350.9" y="609.15" width="4" height="3.7"/><rect x="1359" y="609.15" width="4" height="3.7"/><rect x="1367.1" y="609.15" width="4" height="3.7"/><rect x="1375.2" y="609.15" width="4" height="3.7"/><rect x="1383.3" y="609.15" width="4" height="3.7"/><rect x="1391.4" y="609.15" width="4" height="3.7"/><rect x="1399.5" y="609.15" width="4" height="3.7"/><rect x="1407.6" y="609.15" width="4" height="3.7"/><rect x="1415.7" y="609.15" width="4" height="3.7"/><rect x="1423.8" y="609.15" width="4" height="3.7"/><rect x="1431.9" y="609.15" width="4" height="3.7"/><rect x="1440" y="609.15" width="4" height="3.7"/><rect x="1448.1" y="609.15" width="4" height="3.7"/><rect x="1459" y="610.15" width="4" height="3.7"/><rect x="1467.1" y="610.15" width="4" height="3.7"/><rect x="1475.2" y="610.15" width="4" height="3.7"/><rect x="1483.3" y="610.15" width="4" height="3.7"/><rect x="1491.4" y="610.15" width="4" height="3.7"/><rect x="1499.5" y="610.15" width="4" height="3.7"/><rect x="1507.6" y="610.15" width="4" height="3.7"/><rect x="1515.7" y="610.15" width="4" height="3.7"/><rect x="1523.8" y="610.15" width="4" height="3.7"/><rect x="1531.9" y="610.15" width="4" height="3.7"/><rect x="1540" y="610.15" width="4" height="3.7"/><rect x="1548.1" y="610.15" width="4" height="3.7"/><rect x="1556.2" y="610.15" width="4" height="3.7"/><rect x="1564.3" y="610.15" width="4" height="3.7"/><rect x="1572.4" y="610.15" width="4" height="3.7"/><rect x="1580.5" y="610.15" width="4" height="3.7"/><rect x="1588.6" y="610.15" width="4" height="3.7"/><rect x="1596.7" y="610.15" width="4" height="3.7"/><rect x="1604.8" y="610.15" width="4" height="3.7"/><rect x="1612.9" y="610.15" width="4" height="3.7"/><rect x="1621" y="610.15" width="4" height="3.7"/><rect x="1629.1" y="610.15" width="4" height="3.7"/><rect x="1637.2" y="610.15" width="4" height="3.7"/><rect x="1645.3" y="610.15" width="4" height="3.7"/><rect x="1653.4" y="610.15" width="4" height="3.7"/><rect x="1661.5" y="610.15" width="4" height="3.7"/><rect x="1669.6" y="610.15" width="4" height="3.7"/><rect x="1677.7" y="610.15" width="4" height="3.7"/><rect x="1685.8" y="610.15" width="4" height="3.7"/><rect x="1693.9" y="610.15" width="4" height="3.7"/><rect x="1702" y="610.15" width="4" height="3.7"/><rect x="1710.1" y="610.15" width="4" height="3.7"/><rect x="1718.2" y="610.15" width="4" height="3.7"/><rect x="1726.3" y="610.15" width="4" height="3.7"/><rect x="1734.4" y="610.15" width="4" height="3.7"/><rect x="1742.5" y="610.15" width="4" height="3.7"/><rect x="1750.6" y="610.15" width="4" height="3.7"/><rect x="1758.7" y="610.15" width="4" height="3.7"/><rect x="1766.8" y="610.15" width="4" height="3.7"/><rect x="1774.9" y="610.15" width="4" height="3.7"/><rect x="1783" y="610.15" width="4" height="3.7"/><rect x="1791.1" y="610.15" width="4" height="3.7"/><rect x="1799.2" y="610.15" width="4" height="3.7"/><rect x="1807.3" y="610.15" width="4" height="3.7"/><rect x="1815.4" y="610.15" width="4" height="3.7"/><rect x="1823.5" y="610.15" width="4" height="3.7"/><rect x="1831.6" y="610.15" width="4" height="3.7"/><rect x="1839.7" y="610.15" width="4" height="3.7"/><rect x="1847.8" y="610.15" width="4" height="3.7"/><rect x="1855.9" y="610.15" width="4" height="3.7"/><rect x="1864" y="610.15" width="4" height="3.7"/><rect x="1863.35" y="610" width="3.7" height="4.2"/><rect x="1863.35" y="618.1" width="3.7" height="4.2"/><rect x="1863.35" y="626.2" width="3.7" height="4.2"/><rect x="1863.35" y="634.3" width="3.7" height="4.2"/><rect x="1863.35" y="642.4" width="3.7" height="4.2"/><rect x="1863.35" y="650.5" width="3.7" height="4.2"/><rect x="1863.35" y="658.6" width="3.7" height="4.2"/><rect x="1863.35" y="666.7" width="3.7" height="4.2"/><rect x="1863.35" y="674.8" width="3.7" height="4.2"/><rect x="1863.35" y="682.9" width="3.7" height="4.2"/><rect x="1863.35" y="691" width="3.7" height="4.2"/><rect x="1863.35" y="699.1" width="3.7" height="4.2"/><rect x="1863.35" y="707.2" width="3.7" height="4.2"/><rect x="1863.35" y="715.3" width="3.7" height="4.2"/><rect x="1863.35" y="723.4" width="3.7" height="4.2"/><rect x="1863.35" y="731.5" width="3.7" height="4.2"/><rect x="1863.35" y="739.6" width="3.7" height="4.2"/><rect x="1863.35" y="747.7" width="3.7" height="4.2"/><rect x="1863.35" y="755.8" width="3.7" height="4.2"/><rect x="1863.35" y="763.9" width="3.7" height="4.2"/><rect x="1863.35" y="772" width="3.7" height="4.2"/><rect x="1863.35" y="780.1" width="3.7" height="4.2"/><rect x="1863.35" y="788.2" width="3.7" height="4.2"/><rect x="1863.35" y="796.3" width="3.7" height="4.2"/><rect x="1863.35" y="804.4" width="3.7" height="4.2"/><rect x="1863.35" y="812.5" width="3.7" height="4.2"/><rect x="1863.35" y="820.6" width="3.7" height="4.2"/><rect x="1863.35" y="828.7" width="3.7" height="4.2"/><rect x="1863.35" y="836.8" width="3.7" height="4.2"/><rect x="1863.35" y="844.9" width="3.7" height="4.2"/><rect x="1863.35" y="853" width="3.7" height="4.2"/><rect x="1863.35" y="861.1" width="3.7" height="4.2"/><rect x="1863.35" y="869.2" width="3.7" height="4.2"/><rect x="1863.35" y="877.3" width="3.7" height="4.2"/><rect x="1863.35" y="885.4" width="3.7" height="4.2"/><rect x="1863.35" y="893.5" width="3.7" height="4.2"/><rect x="1863.35" y="901.6" width="3.7" height="4.2"/><rect x="1863.35" y="909.7" width="3.7" height="4.2"/><rect x="1863.35" y="917.8" width="3.7" height="4.2"/><rect x="1863.35" y="925.9" width="3.7" height="4.2"/><rect x="1863.35" y="934" width="3.7" height="4.2"/><rect x="1863.35" y="942.1" width="3.7" height="4.2"/><rect x="1863.35" y="950.2" width="3.7" height="4.2"/><rect x="1863.35" y="958.3" width="3.7" height="4.2"/><rect x="1863.35" y="966.4" width="3.7" height="4.2"/><rect x="1863.35" y="974.5" width="3.7" height="4.2"/><rect x="1863.35" y="982.6" width="3.7" height="4.2"/><rect x="1863.35" y="990.7" width="3.7" height="4.2"/><rect x="1863.35" y="998.8" width="3.7" height="4.2"/><rect x="1863.35" y="1006.9" width="3.7" height="4.2"/><rect x="1863.35" y="1015" width="3.7" height="4.2"/><rect x="1863.35" y="1023.1" width="3.7" height="4.2"/><rect x="1863.35" y="1031.2" width="3.7" height="4.2"/><rect x="1863.35" y="1039.3" width="3.7" height="4.2"/><rect x="1863.35" y="1047.4" width="3.7" height="4.2"/><rect x="1863.35" y="1055.5" width="3.7" height="4.2"/><rect x="1866.45" y="1066" width="3.7" height="4.2"/><rect x="1866.45" y="1074.1" width="3.7" height="4.2"/><rect x="1866.45" y="1082.2" width="3.7" height="4.2"/><rect x="1866.45" y="1090.3" width="3.7" height="4.2"/><rect x="1866.45" y="1098.4" width="3.7" height="4.2"/><rect x="1866.45" y="1106.5" width="3.7" height="4.2"/><rect x="1866.45" y="1114.6" width="3.7" height="4.2"/><rect x="1866.45" y="1122.7" width="3.7" height="4.2"/><rect x="1866.45" y="1130.8" width="3.7" height="4.2"/><rect x="1866.45" y="1138.9" width="3.7" height="4.2"/><rect x="1866.45" y="1147" width="3.7" height="4.2"/><rect x="1866.45" y="1155.1" width="3.7" height="4.2"/><rect x="1866.45" y="1163.2" width="3.7" height="4.2"/><rect x="1866.45" y="1171.3" width="3.7" height="4.2"/><rect x="1866.45" y="1179.4" width="3.7" height="4.2"/><rect x="1866.45" y="1187.5" width="3.7" height="4.2"/><rect x="1866.45" y="1195.6" width="3.7" height="4.2"/><rect x="1866.45" y="1203.7" width="3.7" height="4.2"/><rect x="1866.45" y="1211.8" width="3.7" height="4.2"/><rect x="1866.45" y="1219.9" width="3.7" height="4.2"/><rect x="1866.45" y="1228" width="3.7" height="4.2"/></g>
</svg>
<div class="ph" style="left:649px;top:292px;width:186px;height:126px"></div><div class="bg" style="left:835px;top:292px;width:632px;height:126px"></div><div class="ph" style="left:1112.5px;top:451px;width:164.5px;height:124px"></div><div class="bd" style="left:1277px;top:451px;width:497px;height:124px"></div><div class="ph" style="left:280px;top:522px;width:122px;height:101px"></div><div class="bd" style="left:402px;top:522px;width:399px;height:101px"></div><div class="ph" style="left:27px;top:715px;width:135px;height:103px"></div><div class="bg" style="left:162px;top:715px;width:316px;height:103px"></div><div class="ph" style="left:502.5px;top:715px;width:134.5px;height:103px"></div><div class="bg" style="left:637px;top:715px;width:381px;height:103px"></div><div class="ph" style="left:1041px;top:715px;width:135.5px;height:103px"></div><div class="bg" style="left:1176.5px;top:715px;width:343.5px;height:103px"></div><div class="ph" style="left:1543.5px;top:715px;width:134.5px;height:101.5px"></div><div class="bg" style="left:1678px;top:715px;width:342.5px;height:101.5px"></div><div class="ph" style="left:165.5px;top:854.7px;width:116.5px;height:89.3px"></div><div class="bd" style="left:282px;top:854.7px;width:304px;height:89.3px"></div><div class="ph" style="left:163px;top:976.4px;width:117.3px;height:89.1px"></div><div class="bd" style="left:280.3px;top:976.4px;width:305.4px;height:89.1px"></div><div class="ph" style="left:623px;top:854.7px;width:117.4px;height:89.7px"></div><div class="bd" style="left:740.4px;top:854.7px;width:339.6px;height:89.7px"></div><div class="ph" style="left:626.7px;top:976.2px;width:116.3px;height:89.5px"></div><div class="bd" style="left:743px;top:976.2px;width:340.7px;height:89.5px"></div><div class="ph" style="left:1107px;top:854.7px;width:117px;height:89.3px"></div><div class="bd" style="left:1224px;top:854.7px;width:306px;height:89.3px"></div><div class="ph" style="left:1109px;top:976.4px;width:117px;height:89px"></div><div class="bd" style="left:1226px;top:976.4px;width:304px;height:89px"></div><div class="ph" style="left:1567px;top:854.7px;width:116.5px;height:89.3px"></div><div class="bd" style="left:1683.5px;top:854.7px;width:309.2px;height:89.3px"></div><div class="ph" style="left:1566px;top:976.4px;width:117.5px;height:89px"></div><div class="bd" style="left:1683.5px;top:976.4px;width:309.2px;height:89px"></div><div class="ph" style="left:1569.3px;top:1098px;width:116.4px;height:90px"></div><div class="bd" style="left:1685.7px;top:1098px;width:308.8px;height:90px"></div><div class="ph" style="left:1568.6px;top:1222.6px;width:117.4px;height:89px"></div><div class="bd" style="left:1686px;top:1222.6px;width:308.5px;height:89px"></div><div class="bg" style="left:862px;top:1292.8px;width:391px;height:97px;background:linear-gradient(110deg,#9C0F14 0%,#B8161A 40%,#E42024 100%)"></div>
<svg width="2048" height="1536" style="left:0;top:0"><defs><clipPath id="pc1"><rect x="649" y="232" width="190" height="186"/></clipPath><radialGradient id="fg1" cx="0.42" cy="0.42" r="0.65"><stop offset="0" stop-color="#CFA688"/><stop offset="0.7" stop-color="#C99A78"/><stop offset="1" stop-color="#A57E62"/></radialGradient><linearGradient id="sg1" x1="0" y1="0" x2="1" y2="0.4"><stop offset="0" stop-color="#494745"/><stop offset="1" stop-color="#363432"/></linearGradient></defs><g clip-path="url(#pc1)"><g filter="url(#shblur)" opacity="0.38" transform="translate(5,2)"><path d="M660.6,421 C660.6,379.5 664.8,373.5 674.8,370.5 L711.7,353.7 L755.4,348.5 L796.5,364.3 C806.5,367.3 818,373.3 818,421 Z"/><path d="M697,336.5 C695,259.7 761,259.7 759,336.5 C746.6,352.5 709.4,352.5 697,336.5 Z"/></g><path fill="url(#sg1)" d="M660.6,421 C660.6,379.5 664.8,373.5 674.8,370.5 L711.7,353.7 L755.4,348.5 L796.5,364.3 C806.5,367.3 818,373.3 818,421 Z"/><rect fill="#C99A78" x="710.02" y="336.5" width="35.96" height="14"/><polygon fill="#000" opacity="0.22" points="710.02,344.5 745.98,344.5 728,355.5"/><polygon fill="#F1EEEA" points="711.7,346 755.4,343 757.5,420 712.7,420"/><ellipse fill="#C99A78" cx="697.5" cy="304.65" rx="4" ry="8"/><ellipse fill="#C99A78" cx="758.5" cy="304.65" rx="4" ry="8"/><path fill="url(#fg1)" d="M728,273 C745.4,273 757,281.82 757,303.87 C757,324.45 745.4,346.5 728,346.5 C710.6,346.5 699,324.45 699,303.87 C699,281.82 710.6,273 728,273 Z"/><path fill="#353331" d="M697,304 C696,271.7 709.4,265.7 728,265.7 C746.6,265.7 760,271.7 759,304 L753.52,304 C752.36,281 739.6,279 728,279 C716.4,279 703.64,281 702.48,304 Z"/><ellipse fill="#2A1C18" cx="715.82" cy="307.72" rx="4.06" ry="1.74"/><path fill="none" stroke="#2A1C18" stroke-opacity="0.6" stroke-width="1.2" d="M709.44,301.98 Q715.82,300.29 722.2,301.98"/><ellipse fill="#2A1C18" cx="740.18" cy="307.72" rx="4.06" ry="1.74"/><path fill="none" stroke="#2A1C18" stroke-opacity="0.6" stroke-width="1.2" d="M733.8,301.98 Q740.18,300.29 746.56,301.98"/><path fill="none" stroke="#000" stroke-opacity="0.18" stroke-width="1.4" d="M723.94,320.85 Q728,323.55 732.06,320.85"/><ellipse fill="#8A4A40" opacity="0.85" cx="728" cy="327" rx="9.86" ry="2.61"/><g fill="#000" fill-opacity="0.08" stroke="#1A1412" stroke-width="2.4"><rect x="700.7" y="302.7" width="26.15" height="14.6" rx="2"/><rect x="728.85" y="302.7" width="26.15" height="14.6" rx="2"/></g><line stroke="#1A1412" stroke-width="2.2" x1="725.85" y1="304.7" x2="729.85" y2="304.7"/></g></svg><svg width="2048" height="1536" style="left:0;top:0"><defs><clipPath id="pc2"><rect x="1112.5" y="391" width="168.5" height="184"/></clipPath><radialGradient id="fg2" cx="0.42" cy="0.42" r="0.65"><stop offset="0" stop-color="#BB8A67"/><stop offset="0.7" stop-color="#B27A52"/><stop offset="1" stop-color="#926443"/></radialGradient><linearGradient id="sg2" x1="0" y1="0" x2="1" y2="0.4"><stop offset="0" stop-color="#32302E"/><stop offset="1" stop-color="#211F1D"/></linearGradient></defs><g clip-path="url(#pc2)"><g filter="url(#shblur)" opacity="0.38" transform="translate(5,2)"><path d="M1119,578 C1119,533.7 1129.4,527.7 1139.4,524.7 L1173.4,513 L1231,522.8 L1247.3,532.5 C1257.3,535.5 1263.7,541.5 1263.7,578 Z"/><path d="M1174,508.5 C1172,430.3 1242,430.3 1240,508.5 C1226.8,524.5 1187.2,524.5 1174,508.5 Z"/></g><path fill="url(#sg2)" d="M1119,578 C1119,533.7 1129.4,527.7 1139.4,524.7 L1173.4,513 L1231,522.8 L1247.3,532.5 C1257.3,535.5 1263.7,541.5 1263.7,578 Z"/><rect fill="#B27A52" x="1188.4" y="508.5" width="37.2" height="6.5"/><polygon fill="#000" opacity="0.22" points="1188.4,516.5 1225.6,516.5 1207,527.5"/><polygon fill="#F4F4F2" points="1182,501 1231,515 1240,576 1206.6,576 1191,527"/><ellipse fill="#B27A52" cx="1175.5" cy="488.43" rx="4" ry="8"/><ellipse fill="#B27A52" cx="1238.5" cy="488.43" rx="4" ry="8"/><path fill="url(#fg2)" d="M1207,464 C1225,464 1237,470.54 1237,486.89 C1237,502.15 1225,518.5 1207,518.5 C1189,518.5 1177,502.15 1177,486.89 C1177,470.54 1189,464 1207,464 Z"/><path fill="#1C1410" d="M1178,484.55 C1179,516.5 1192,519.5 1207,519.5 C1222,519.5 1235,516.5 1236,484.55 C1228,506.38 1216,504.92 1207,503.95 C1198,504.92 1186,506.38 1178,484.55 Z"/><path fill="#C8956A" d="M1174,472 C1172,440.3 1193.8,436.3 1209,436.3 C1226.8,436.3 1244,444.3 1242,468 C1220.2,462 1193.8,464 1174,472 Z"/><path fill="none" stroke="#A87850" stroke-width="1.5" d="M1176,462 C1193.8,454 1220.2,454 1240,460"/><ellipse fill="#2A1C18" cx="1194.4" cy="479.04" rx="4.2" ry="1.8"/><path fill="none" stroke="#2A1C18" stroke-opacity="0.6" stroke-width="1.2" d="M1187.8,474.92 Q1194.4,473.71 1201,474.92"/><ellipse fill="#2A1C18" cx="1219.6" cy="479.04" rx="4.2" ry="1.8"/><path fill="none" stroke="#2A1C18" stroke-opacity="0.6" stroke-width="1.2" d="M1213,474.92 Q1219.6,473.71 1226.2,474.92"/><path fill="none" stroke="#000" stroke-opacity="0.18" stroke-width="1.4" d="M1202.8,500.07 Q1207,502.01 1211.2,500.07"/><ellipse fill="#8A4A40" opacity="0.85" cx="1210" cy="500" rx="10.2" ry="2.7"/></g></svg><svg width="2048" height="1536" style="left:0;top:0"><defs><clipPath id="pc3"><rect x="280" y="462" width="126" height="161"/></clipPath><radialGradient id="fg3" cx="0.42" cy="0.42" r="0.65"><stop offset="0" stop-color="#D5AB93"/><stop offset="0.7" stop-color="#CFA084"/><stop offset="1" stop-color="#AA836C"/></radialGradient><linearGradient id="sg3" x1="0" y1="0" x2="1" y2="0.4"><stop offset="0" stop-color="#755544"/><stop offset="1" stop-color="#5F4131"/></linearGradient></defs><g clip-path="url(#pc3)"><g filter="url(#shblur)" opacity="0.38" transform="translate(5,2)"><path d="M280,626 C280,605 280.3,599 290.3,596 L318,580.5 L359.4,577.9 L392,592.5 C402,595.5 402,601.5 402,626 Z"/><path d="M295,568.8 C293,491.9 383,491.9 381,568.8 C363.8,584.8 312.2,584.8 295,568.8 Z"/></g><path fill="url(#sg3)" d="M280,626 C280,605 280.3,599 290.3,596 L318,580.5 L359.4,577.9 L392,592.5 C402,595.5 402,601.5 402,626 Z"/><rect fill="#CFA084" x="322.5" y="568.8" width="31" height="11.1"/><polygon fill="#000" opacity="0.22" points="322.5,576.8 353.5,576.8 338,587.8"/><polygon fill="#F3EEDD" points="319,577 359.4,575 354,624 322.5,624"/><path fill="url(#fg3)" d="M338,513 C353,513 363,520.9 363,540.64 C363,559.06 353,578.8 338,578.8 C323,578.8 313,559.06 313,540.64 C313,520.9 323,513 338,513 Z"/><ellipse fill="#2A1C18" cx="327.5" cy="539.97" rx="3.5" ry="1.5"/><path fill="none" stroke="#2A1C18" stroke-opacity="0.6" stroke-width="1.2" d="M322,534.88 Q327.5,533.39 333,534.88"/><ellipse fill="#2A1C18" cx="348.5" cy="539.97" rx="3.5" ry="1.5"/><path fill="none" stroke="#2A1C18" stroke-opacity="0.6" stroke-width="1.2" d="M343,534.88 Q348.5,533.39 354,534.88"/><path fill="none" stroke="#000" stroke-opacity="0.18" stroke-width="1.4" d="M334.5,556.08 Q338,558.47 341.5,556.08"/><ellipse fill="#8A4A40" opacity="0.85" cx="338" cy="567" rx="8.5" ry="2.25"/><g fill="#fff" fill-opacity="0.12" stroke="#D8C8B8" stroke-width="1.2"><rect x="317" y="539" width="21" height="12.5" rx="3"/><rect x="340" y="539" width="21" height="12.5" rx="3"/></g><path fill="#1E1E1A" d="M300,573 C292,566 293,556 297,548 C292,538 295,526 302,518 C305,506 318,498 336,498 C356,497 372,506 378,520 C385,530 383,542 380,550 C384,558 383,568 376,575 C370,580 364,578 360,574 C366,560 366,540 362,528 C350,520 332,520 316,526 C312,540 312,560 316,572 C312,578 305,578 300,573 Z"/></g></svg><svg width="2048" height="1536" style="left:0;top:0"><defs><clipPath id="pc4"><rect x="27" y="655" width="139" height="163"/></clipPath><radialGradient id="fg4" cx="0.42" cy="0.42" r="0.65"><stop offset="0" stop-color="#E9BFAB"/><stop offset="0.7" stop-color="#E6B6A0"/><stop offset="1" stop-color="#BD9583"/></radialGradient><linearGradient id="sg4" x1="0" y1="0" x2="1" y2="0.4"><stop offset="0" stop-color="#D8E6F1"/><stop offset="1" stop-color="#BCC9D3"/></linearGradient></defs><g clip-path="url(#pc4)"><g filter="url(#shblur)" opacity="0.38" transform="translate(5,2)"><path d="M32.2,821 C32.2,787.4 43,781.4 53,778.4 L60,768 L127.8,766 L128.7,771.7 C138.7,774.7 149.8,780.7 149.8,821 Z"/><path d="M66,754.5 C64,690.4 124,690.4 122,754.5 C110.8,770.5 77.2,770.5 66,754.5 Z"/></g><path fill="#2E2420" d="M66,800 C63,704.4 77.2,696.4 94,696.4 C110.8,696.4 125,704.4 122,794 L105.2,798 C94,764.5 82.8,804 66,800 Z"/><path fill="url(#sg4)" d="M32.2,821 C32.2,787.4 43,781.4 53,778.4 L60,768 L127.8,766 L128.7,771.7 C138.7,774.7 149.8,780.7 149.8,821 Z"/><rect fill="#E6B6A0" x="83.5" y="754.5" width="21" height="13.5"/><polygon fill="#000" opacity="0.22" points="83.5,762.5 104.5,762.5 94,773.5"/><polygon fill="#C8B8B8" points="83,766 106.7,766 125.3,819 106.7,819"/><path fill="#2E2420" d="M62,725 C60,750 60,775 62,800 C68,805 76,806 81,803 C80,790 79,775 80,762 C78,752 76,740 74,730 Z"/><path fill="#2E2420" d="M113,728 C112,745 112,760 116,772 C120,782 125,790 131,794 C134,790 134,786 132,780 C128,770 126,755 126,740 C124,732 120,728 113,728 Z"/><path fill="url(#fg4)" d="M94,705.2 C105.4,705.2 113,712.32 113,730.11 C113,746.71 105.4,764.5 94,764.5 C82.6,764.5 75,746.71 75,730.11 C75,712.32 82.6,705.2 94,705.2 Z"/><path fill="#2E2420" d="M68,737.85 C66,702.4 77.2,696.4 94,696.4 C110.8,696.4 122,702.4 120,737.85 L112.24,732.52 C111.1,713.2 97.8,710.2 92.1,711.2 C82.6,714.2 75,719.2 75.76,732.52 Z"/><ellipse fill="#2A1C18" cx="86.02" cy="731.81" rx="2.66" ry="1.14"/><path fill="none" stroke="#2A1C18" stroke-opacity="0.6" stroke-width="1.2" d="M81.84,727.28 Q86.02,725.95 90.2,727.28"/><ellipse fill="#2A1C18" cx="101.98" cy="731.81" rx="2.66" ry="1.14"/><path fill="none" stroke="#2A1C18" stroke-opacity="0.6" stroke-width="1.2" d="M97.8,727.28 Q101.98,725.95 106.16,727.28"/><path fill="none" stroke="#000" stroke-opacity="0.18" stroke-width="1.4" d="M91.34,744.25 Q94,746.38 96.66,744.25"/><ellipse fill="#8A4A40" opacity="0.85" cx="94" cy="752" rx="6.46" ry="1.71"/></g></svg><svg width="2048" height="1536" style="left:0;top:0"><defs><clipPath id="pc5"><rect x="502.5" y="655" width="138.5" height="163"/></clipPath><radialGradient id="fg5" cx="0.42" cy="0.42" r="0.65"><stop offset="0" stop-color="#C1937A"/><stop offset="0.7" stop-color="#B88468"/><stop offset="1" stop-color="#976C55"/></radialGradient><linearGradient id="sg5" x1="0" y1="0" x2="1" y2="0.4"><stop offset="0" stop-color="#2C2D35"/><stop offset="1" stop-color="#1A1C23"/></linearGradient></defs><g clip-path="url(#pc5)"><g filter="url(#shblur)" opacity="0.38" transform="translate(5,2)"><path d="M507.2,821 C507.2,793.4 509.7,787.4 519.7,784.4 L544.4,769.6 L585,757.7 L622.5,775 C632.5,778 637,784 637,821 Z"/><path d="M533.5,754.4 C531.5,689.1 585.5,689.1 583.5,754.4 C573.5,770.4 543.5,770.4 533.5,754.4 Z"/></g><path fill="url(#sg5)" d="M507.2,821 C507.2,793.4 509.7,787.4 519.7,784.4 L544.4,769.6 L585,757.7 L622.5,775 C632.5,778 637,784 637,821 Z"/><rect fill="#B88468" x="543" y="754.4" width="31" height="5.3"/><polygon fill="#000" opacity="0.22" points="543,762.4 574,762.4 558.5,773.4"/><polygon fill="#E8EAF5" points="546.1,766.2 582.5,756 573.2,819 547.8,819"/><polygon fill="#202024" points="551,780.6 569,780.6 562,787 564,819 552,819 556,787"/><ellipse fill="#B88468" cx="532" cy="730.3" rx="4" ry="8"/><ellipse fill="#B88468" cx="585" cy="730.3" rx="4" ry="8"/><path fill="url(#fg5)" d="M558.5,703.4 C573.5,703.4 583.5,710.72 583.5,729.02 C583.5,746.1 573.5,764.4 558.5,764.4 C543.5,764.4 533.5,746.1 533.5,729.02 C533.5,710.72 543.5,703.4 558.5,703.4 Z"/><path fill="#3A3838" d="M533.5,733 C532.5,701.1 543.5,695.1 558.5,695.1 C573.5,695.1 584.5,701.1 583.5,733 L580.5,733 C579.5,711.4 568.5,709.4 558.5,709.4 C548.5,709.4 537.5,711.4 536.5,733 Z"/><ellipse fill="#2A1C18" cx="548" cy="731.14" rx="3.5" ry="1.5"/><path fill="none" stroke="#2A1C18" stroke-opacity="0.6" stroke-width="1.2" d="M542.5,726.46 Q548,725.09 553.5,726.46"/><ellipse fill="#2A1C18" cx="569" cy="731.14" rx="3.5" ry="1.5"/><path fill="none" stroke="#2A1C18" stroke-opacity="0.6" stroke-width="1.2" d="M563.5,726.46 Q569,725.09 574.5,726.46"/><path fill="none" stroke="#000" stroke-opacity="0.18" stroke-width="1.4" d="M555,743.5 Q558.5,745.7 562,743.5"/><ellipse fill="#8A4A40" opacity="0.85" cx="558" cy="752" rx="8.5" ry="2.25"/></g></svg><svg width="2048" height="1536" style="left:0;top:0"><defs><clipPath id="pc6"><rect x="1041" y="655" width="139.5" height="163"/></clipPath><radialGradient id="fg6" cx="0.42" cy="0.42" r="0.65"><stop offset="0" stop-color="#604942"/><stop offset="0.7" stop-color="#4A3028"/><stop offset="1" stop-color="#3D2721"/></radialGradient><linearGradient id="sg6" x1="0" y1="0" x2="1" y2="0.4"><stop offset="0" stop-color="#373944"/><stop offset="1" stop-color="#252731"/></linearGradient></defs><g clip-path="url(#pc6)"><g filter="url(#shblur)" opacity="0.38" transform="translate(5,2)"><path d="M1041.2,821 C1041.2,781.7 1042,775.7 1052,772.7 L1087.6,751.6 L1130.5,751.6 L1163.5,767.5 C1173.5,770.5 1177,776.5 1177,821 Z"/><path d="M1084.5,753.6 C1082.5,687 1136.5,687 1134.5,753.6 C1124.5,769.6 1094.5,769.6 1084.5,753.6 Z"/></g><path fill="url(#sg6)" d="M1041.2,821 C1041.2,781.7 1042,775.7 1052,772.7 L1087.6,751.6 L1130.5,751.6 L1163.5,767.5 C1173.5,770.5 1177,776.5 1177,821 Z"/><rect fill="#4A3028" x="1095.24" y="753.6" width="28.52" height="4"/><polygon fill="#000" opacity="0.22" points="1095.24,761.6 1123.76,761.6 1109.5,772.6"/><polygon fill="#F2F2F2" points="1089.3,755 1128.8,754.2 1125.4,782.5 1122,819 1104,819 1096,782.5"/><polygon fill="#8A1820" points="1106.5,769.7 1121,769.7 1117,775 1122,819 1110,819 1110,775"/><ellipse fill="#4A3028" cx="1085" cy="730.55" rx="4" ry="8"/><ellipse fill="#4A3028" cx="1134" cy="730.55" rx="4" ry="8"/><path fill="url(#fg6)" d="M1109.5,704.3 C1123.3,704.3 1132.5,711.42 1132.5,729.21 C1132.5,745.81 1123.3,763.6 1109.5,763.6 C1095.7,763.6 1086.5,745.81 1086.5,729.21 C1086.5,711.42 1095.7,704.3 1109.5,704.3 Z"/><path fill="#101010" d="M1084.5,729.3 C1083.5,699 1094.5,693 1109.5,693 C1124.5,693 1135.5,699 1134.5,729.3 L1129.74,729.3 C1128.82,712.3 1118.7,710.3 1109.5,710.3 C1100.3,710.3 1090.18,712.3 1089.26,729.3 Z"/><ellipse fill="#2A1C18" cx="1099.84" cy="729.71" rx="3.22" ry="1.38"/><path fill="none" stroke="#2A1C18" stroke-opacity="0.6" stroke-width="1.2" d="M1094.78,725.18 Q1099.84,723.85 1104.9,725.18"/><ellipse fill="#2A1C18" cx="1119.16" cy="729.71" rx="3.22" ry="1.38"/><path fill="none" stroke="#2A1C18" stroke-opacity="0.6" stroke-width="1.2" d="M1114.1,725.18 Q1119.16,723.85 1124.22,725.18"/><path fill="none" stroke="#000" stroke-opacity="0.18" stroke-width="1.4" d="M1106.28,743.35 Q1109.5,745.48 1112.72,743.35"/><ellipse fill="#8A4A40" opacity="0.85" cx="1109" cy="750" rx="7.82" ry="2.07"/></g></svg><svg width="2048" height="1536" style="left:0;top:0"><defs><clipPath id="pc7"><rect x="1543.5" y="655" width="138.5" height="161.5"/></clipPath><radialGradient id="fg7" cx="0.42" cy="0.42" r="0.65"><stop offset="0" stop-color="#BD8C73"/><stop offset="0.7" stop-color="#B47C60"/><stop offset="1" stop-color="#94664F"/></radialGradient><linearGradient id="sg7" x1="0" y1="0" x2="1" y2="0.4"><stop offset="0" stop-color="#37393C"/><stop offset="1" stop-color="#25272A"/></linearGradient></defs><g clip-path="url(#pc7)"><g filter="url(#shblur)" opacity="0.38" transform="translate(5,2)"><path d="M1544.4,819.5 C1544.4,789 1553.2,783 1563.2,780 L1595.6,766 L1632.8,765.4 L1662.6,780 C1672.6,783 1677.7,789 1677.7,819.5 Z"/><path d="M1593,756.2 C1591,690.8 1639,690.8 1637,756.2 C1628.2,772.2 1601.8,772.2 1593,756.2 Z"/></g><path fill="url(#sg7)" d="M1544.4,819.5 C1544.4,789 1553.2,783 1563.2,780 L1595.6,766 L1632.8,765.4 L1662.6,780 C1672.6,783 1677.7,789 1677.7,819.5 Z"/><rect fill="#B47C60" x="1600.74" y="756.2" width="28.52" height="11.2"/><polygon fill="#000" opacity="0.22" points="1600.74,764.2 1629.26,764.2 1615,775.2"/><polygon fill="#EEEEF4" points="1596.4,766.2 1632.8,766.2 1627.8,818 1602.4,818"/><polygon fill="#38383C" points="1607.4,780.6 1621.8,780.6 1618,787 1621,818 1608,818 1611,787"/><ellipse fill="#B47C60" cx="1590.5" cy="731.54" rx="4" ry="8"/><ellipse fill="#B47C60" cx="1639.5" cy="731.54" rx="4" ry="8"/><path fill="url(#fg7)" d="M1615,704.3 C1628.8,704.3 1638,711.73 1638,730.3 C1638,747.63 1628.8,766.2 1615,766.2 C1601.2,766.2 1592,747.63 1592,730.3 C1592,711.73 1601.2,704.3 1615,704.3 Z"/><path fill="#151515" d="M1593,720 C1592,702.8 1601.8,696.8 1615,696.8 C1628.2,696.8 1638,702.8 1637,720 L1635.24,720 C1634.32,712.3 1624.2,710.3 1615,710.3 C1605.8,710.3 1595.68,712.3 1594.76,720 Z"/><ellipse fill="#2A1C18" cx="1605.34" cy="732.89" rx="3.22" ry="1.38"/><path fill="none" stroke="#2A1C18" stroke-opacity="0.6" stroke-width="1.2" d="M1600.28,728.14 Q1605.34,726.74 1610.4,728.14"/><ellipse fill="#2A1C18" cx="1624.66" cy="732.89" rx="3.22" ry="1.38"/><path fill="none" stroke="#2A1C18" stroke-opacity="0.6" stroke-width="1.2" d="M1619.6,728.14 Q1624.66,726.74 1629.72,728.14"/><path fill="none" stroke="#000" stroke-opacity="0.18" stroke-width="1.4" d="M1611.78,744.96 Q1615,747.19 1618.22,744.96"/><ellipse fill="#8A4A40" opacity="0.85" cx="1615" cy="755" rx="7.82" ry="2.07"/><g fill="#000" fill-opacity="0.08" stroke="#1A1412" stroke-width="2.4"><rect x="1594.9" y="730" width="17.05" height="14" rx="2"/><rect x="1613.95" y="730" width="17.05" height="14" rx="2"/></g><line stroke="#1A1412" stroke-width="2.2" x1="1610.95" y1="732" x2="1614.95" y2="732"/></g></svg><svg width="2048" height="1536" style="left:0;top:0"><defs><clipPath id="pc8"><rect x="165.5" y="794.7" width="120.5" height="149.3"/></clipPath><radialGradient id="fg8" cx="0.42" cy="0.42" r="0.65"><stop offset="0" stop-color="#EBC1A4"/><stop offset="0.7" stop-color="#E8B898"/><stop offset="1" stop-color="#BE977D"/></radialGradient><linearGradient id="sg8" x1="0" y1="0" x2="1" y2="0.4"><stop offset="0" stop-color="#313337"/><stop offset="1" stop-color="#202125"/></linearGradient></defs><g clip-path="url(#pc8)"><g filter="url(#shblur)" opacity="0.38" transform="translate(5,2)"><path d="M166,947 C166,921.8 172.5,915.8 182.5,912.8 L194.4,904 L260,904 L271.9,912.8 C281.9,915.8 282,921.8 282,947 Z"/><path d="M200.5,891 C198.5,827.8 252.5,827.8 250.5,891 C240.5,907 210.5,907 200.5,891 Z"/></g><path fill="#1A1C20" d="M200.5,887 C198.5,843.8 210.5,833.8 225.5,833.8 C240.5,833.8 252.5,843.8 250.5,887 C256.5,901 235.5,907 225.5,907 C215.5,907 194.5,901 200.5,887 Z"/><path fill="url(#sg8)" d="M166,947 C166,921.8 172.5,915.8 182.5,912.8 L194.4,904 L260,904 L271.9,912.8 C281.9,915.8 282,921.8 282,947 Z"/><path fill="#1A1C20" d="M198.5,895 C196.5,911 219.5,915 225.5,913 C231.5,915 254.5,911 252.5,895 Z"/><polygon fill="#F2F4F6" points="166,917.4 178,917.4 185.8,945 166,945"/><path fill="#3E4248" d="M184,914 C189,909 193,906 198,905 L206,945 L186,945 Z"/><path fill="#4A4E54" d="M253,905 C262,906 274,910 282,918 L282,945 L248,945 Z"/><path fill="#1A1C20" d="M196,880 C196,900 200,920 206,945 L250,945 C254,920 257,900 256,880 Z"/><path fill="url(#fg8)" d="M225.5,845.5 C237.95,845.5 246.25,852.16 246.25,868.81 C246.25,884.35 237.95,901 225.5,901 C213.05,901 204.75,884.35 204.75,868.81 C204.75,852.16 213.05,845.5 225.5,845.5 Z"/><path fill="#1A1C20" d="M200.5,878.8 C199.5,839.8 210.5,833.8 225.5,833.8 C240.5,833.8 251.5,839.8 250.5,878.8 L246.25,873.25 C246.25,848.5 235.88,845.5 225.5,845.5 C215.12,845.5 204.75,848.5 204.75,873.25 Z"/><ellipse fill="#2A1C18" cx="216.78" cy="865.48" rx="2.91" ry="1.24"/><path fill="none" stroke="#2A1C18" stroke-opacity="0.6" stroke-width="1.2" d="M212.22,860.76 Q216.78,859.38 221.35,860.76"/><ellipse fill="#2A1C18" cx="234.22" cy="865.48" rx="2.91" ry="1.24"/><path fill="none" stroke="#2A1C18" stroke-opacity="0.6" stroke-width="1.2" d="M229.65,860.76 Q234.22,859.38 238.78,860.76"/><path fill="none" stroke="#000" stroke-opacity="0.18" stroke-width="1.4" d="M222.59,879.91 Q225.5,882.13 228.41,879.91"/><ellipse fill="#D83030" opacity="0.85" cx="226.4" cy="886.5" rx="7.06" ry="1.87"/></g></svg><svg width="2048" height="1536" style="left:0;top:0"><defs><clipPath id="pc9"><rect x="163" y="916.4" width="121.3" height="149.1"/></clipPath><radialGradient id="fg9" cx="0.42" cy="0.42" r="0.65"><stop offset="0" stop-color="#C8987C"/><stop offset="0.7" stop-color="#C08A6A"/><stop offset="1" stop-color="#9D7157"/></radialGradient><linearGradient id="sg9" x1="0" y1="0" x2="1" y2="0.4"><stop offset="0" stop-color="#F1EFF7"/><stop offset="1" stop-color="#D3D1D8"/></linearGradient></defs><g clip-path="url(#pc9)"><g filter="url(#shblur)" opacity="0.38" transform="translate(5,2)"><path d="M164.6,1068.5 C164.6,1051.7 173.6,1045.7 183.6,1042.7 L206.4,1033 L247.8,1026 L269.9,1043.4 C279.9,1046.4 280,1052.4 280,1068.5 Z"/><path d="M201.2,1022.4 C199.2,949.8 254.2,949.8 252.2,1022.4 C242,1038.4 211.4,1038.4 201.2,1022.4 Z"/></g><path fill="url(#sg9)" d="M164.6,1068.5 C164.6,1051.7 173.6,1045.7 183.6,1042.7 L206.4,1033 L247.8,1026 L269.9,1043.4 C279.9,1046.4 280,1052.4 280,1068.5 Z"/><polygon fill="#C08A6A" points="208,1024.4 246,1024.4 246,1026 226,1055 208,1033"/><polygon fill="#000" opacity="0.25" points="208,1030.4 246,1030.4 226,1042.4"/><ellipse fill="#C08A6A" cx="200.2" cy="994.15" rx="4" ry="8"/><ellipse fill="#C08A6A" cx="253.2" cy="994.15" rx="4" ry="8"/><path fill="url(#fg9)" d="M226.7,964.7 C241.7,964.7 251.7,972.82 251.7,993.13 C251.7,1012.09 241.7,1032.4 226.7,1032.4 C211.7,1032.4 201.7,1012.09 201.7,993.13 C201.7,972.82 211.7,964.7 226.7,964.7 Z"/><path fill="#1C1410" d="M212.7,1021.29 C214.2,1033.4 239.2,1033.4 240.7,1021.29 C231.7,1026.23 221.7,1026.23 212.7,1021.29 Z"/><path fill="none" stroke="#1C1410" stroke-width="2" d="M216.7,1013.89 Q226.7,1008.95 236.7,1013.89"/><path fill="#161412" d="M201.2,987 C200.2,961.8 211.4,955.8 226.7,955.8 C242,955.8 253.2,961.8 252.2,987 L248.7,987 C247.7,972.7 236.7,970.7 226.7,970.7 C216.7,970.7 205.7,972.7 204.7,987 Z"/><ellipse fill="#2A1C18" cx="216.2" cy="995.63" rx="3.5" ry="1.5"/><path fill="none" stroke="#2A1C18" stroke-opacity="0.6" stroke-width="1.2" d="M210.7,990.39 Q216.2,988.85 221.7,990.39"/><ellipse fill="#2A1C18" cx="237.2" cy="995.63" rx="3.5" ry="1.5"/><path fill="none" stroke="#2A1C18" stroke-opacity="0.6" stroke-width="1.2" d="M231.7,990.39 Q237.2,988.85 242.7,990.39"/><path fill="none" stroke="#000" stroke-opacity="0.18" stroke-width="1.4" d="M223.2,1008.95 Q226.7,1011.42 230.2,1008.95"/><ellipse fill="#8A4A40" opacity="0.85" cx="226.5" cy="1016" rx="8.5" ry="2.25"/></g></svg><svg width="2048" height="1536" style="left:0;top:0"><defs><clipPath id="pc10"><rect x="623" y="794.7" width="121.4" height="149.7"/></clipPath><radialGradient id="fg10" cx="0.42" cy="0.42" r="0.65"><stop offset="0" stop-color="#7C5749"/><stop offset="0.7" stop-color="#6A4030"/><stop offset="1" stop-color="#573427"/></radialGradient><linearGradient id="sg10" x1="0" y1="0" x2="1" y2="0.4"><stop offset="0" stop-color="#F5F5F5"/><stop offset="1" stop-color="#D7D7D7"/></linearGradient></defs><g clip-path="url(#pc10)"><g filter="url(#shblur)" opacity="0.38" transform="translate(5,2)"><path d="M623.2,947.4 C623.2,931.3 624.4,925.3 634.4,922.3 L655.5,913.3 L702,912 L723.2,924.7 C733.2,927.7 733.2,933.7 733.2,947.4 Z"/><path d="M652.7,898.5 C650.7,833.1 705.7,833.1 703.7,898.5 C693.5,914.5 662.9,914.5 652.7,898.5 Z"/></g><path fill="url(#sg10)" d="M623.2,947.4 C623.2,931.3 624.4,925.3 634.4,922.3 L655.5,913.3 L702,912 L723.2,924.7 C733.2,927.7 733.2,933.7 733.2,947.4 Z"/><polygon fill="#6A4030" points="660,900.5 698,900.5 698,912 679,930 660,913.3"/><polygon fill="#000" opacity="0.25" points="660,906.5 698,906.5 679,918.5"/><ellipse fill="#6A4030" cx="652.85" cy="873.66" rx="4" ry="8"/><ellipse fill="#6A4030" cx="703.55" cy="873.66" rx="4" ry="8"/><path fill="url(#fg10)" d="M678.2,846.3 C692.51,846.3 702.05,853.76 702.05,872.42 C702.05,889.84 692.51,908.5 678.2,908.5 C663.89,908.5 654.35,889.84 654.35,872.42 C654.35,853.76 663.89,846.3 678.2,846.3 Z"/><path fill="#141010" d="M652.7,875 C651.7,845.1 662.9,839.1 678.2,839.1 C693.5,839.1 704.7,845.1 703.7,875 L699.19,875 C698.23,854.3 687.74,852.3 678.2,852.3 C668.66,852.3 658.17,854.3 657.21,875 Z"/><ellipse fill="#2A1C18" cx="668.18" cy="875.19" rx="3.34" ry="1.43"/><path fill="none" stroke="#2A1C18" stroke-opacity="0.6" stroke-width="1.2" d="M662.94,870.41 Q668.18,869.01 673.43,870.41"/><ellipse fill="#2A1C18" cx="688.22" cy="875.19" rx="3.34" ry="1.43"/><path fill="none" stroke="#2A1C18" stroke-opacity="0.6" stroke-width="1.2" d="M682.97,870.41 Q688.22,869.01 693.46,870.41"/><path fill="none" stroke="#000" stroke-opacity="0.18" stroke-width="1.4" d="M674.86,887.14 Q678.2,889.39 681.54,887.14"/><ellipse fill="#8A4A40" opacity="0.85" cx="678" cy="897" rx="8.11" ry="2.15"/></g></svg><svg width="2048" height="1536" style="left:0;top:0"><defs><clipPath id="pc11"><rect x="626.7" y="916.2" width="120.3" height="149.5"/></clipPath><radialGradient id="fg11" cx="0.42" cy="0.42" r="0.65"><stop offset="0" stop-color="#CF9D81"/><stop offset="0.7" stop-color="#C89070"/><stop offset="1" stop-color="#A4765C"/></radialGradient><linearGradient id="sg11" x1="0" y1="0" x2="1" y2="0.4"><stop offset="0" stop-color="#E6E9F7"/><stop offset="1" stop-color="#C9CCD8"/></linearGradient></defs><g clip-path="url(#pc11)"><g filter="url(#shblur)" opacity="0.38" transform="translate(5,2)"><path d="M624.4,1068.7 C624.4,1055.7 624.4,1049.7 634.4,1046.7 L665,1028 L701,1028 L731.6,1044.3 C741.6,1047.3 741.6,1053.3 741.6,1068.7 Z"/><path d="M657.25,1014.5 C655.25,951.6 710.75,951.6 708.75,1014.5 C698.45,1030.5 667.55,1030.5 657.25,1014.5 Z"/></g><path fill="url(#sg11)" d="M624.4,1068.7 C624.4,1055.7 624.4,1049.7 634.4,1046.7 L665,1028 L701,1028 L731.6,1044.3 C741.6,1047.3 741.6,1053.3 741.6,1068.7 Z"/><polygon fill="#C89070" points="667,1016.5 699,1016.5 699,1028 682,1061.6 667,1028"/><polygon fill="#000" opacity="0.25" points="667,1022.5 699,1022.5 682,1034.5"/><ellipse fill="#C89070" cx="657.5" cy="992.57" rx="4" ry="8"/><ellipse fill="#C89070" cx="708.5" cy="992.57" rx="4" ry="8"/><path fill="url(#fg11)" d="M683,967 C697.4,967 707,973.9 707,991.15 C707,1007.25 697.4,1024.5 683,1024.5 C668.6,1024.5 659,1007.25 659,991.15 C659,973.9 668.6,967 683,967 Z"/><path fill="#1A1A1A" d="M657.25,987.5 C656.25,963.6 667.55,957.6 683,957.6 C698.45,957.6 709.75,963.6 708.75,987.5 L704.12,987.5 C703.16,975 692.6,973 683,973 C673.4,973 662.84,975 661.88,987.5 Z"/><ellipse fill="#2A1C18" cx="672.92" cy="992.39" rx="3.36" ry="1.44"/><path fill="none" stroke="#2A1C18" stroke-opacity="0.6" stroke-width="1.2" d="M667.64,988.01 Q672.92,986.72 678.2,988.01"/><ellipse fill="#2A1C18" cx="693.08" cy="992.39" rx="3.36" ry="1.44"/><path fill="none" stroke="#2A1C18" stroke-opacity="0.6" stroke-width="1.2" d="M687.8,988.01 Q693.08,986.72 698.36,988.01"/><path fill="none" stroke="#000" stroke-opacity="0.18" stroke-width="1.4" d="M679.64,1004.93 Q683,1006.99 686.36,1004.93"/><ellipse fill="#8A4A40" opacity="0.85" cx="683" cy="1013" rx="8.16" ry="2.16"/></g></svg><svg width="2048" height="1536" style="left:0;top:0"><defs><clipPath id="pc12"><rect x="1107" y="794.7" width="121" height="149.3"/></clipPath><radialGradient id="fg12" cx="0.42" cy="0.42" r="0.65"><stop offset="0" stop-color="#CFA188"/><stop offset="0.7" stop-color="#C89478"/><stop offset="1" stop-color="#A47962"/></radialGradient><linearGradient id="sg12" x1="0" y1="0" x2="1" y2="0.4"><stop offset="0" stop-color="#EFEFEF"/><stop offset="1" stop-color="#D1D1D1"/></linearGradient></defs><g clip-path="url(#pc12)"><g filter="url(#shblur)" opacity="0.38" transform="translate(5,2)"><path d="M1108.2,947 C1108.2,931.5 1110.4,925.5 1120.4,922.5 L1140,921 L1184,921 L1201.5,922.5 C1211.5,925.5 1213.7,931.5 1213.7,947 Z"/><path d="M1134.5,902.3 C1132.5,835.5 1191.5,835.5 1189.5,902.3 C1178.5,918.3 1145.5,918.3 1134.5,902.3 Z"/></g><path fill="#C8CCD4" d="M1134.5,898.3 C1132.5,851.5 1145.5,841.5 1162,841.5 C1178.5,841.5 1191.5,851.5 1189.5,898.3 C1195.5,923 1172,929 1162,929 C1152,929 1128.5,923 1134.5,898.3 Z"/><path fill="url(#sg12)" d="M1108.2,947 C1108.2,931.5 1110.4,925.5 1120.4,922.5 L1140,921 L1184,921 L1201.5,922.5 C1211.5,925.5 1213.7,931.5 1213.7,947 Z"/><path fill="#C8CCD4" d="M1132.5,906.3 C1130.5,933 1156,937 1162,935 C1168,937 1193.5,933 1191.5,906.3 Z"/><path fill="url(#fg12)" d="M1162,851.9 C1175.2,851.9 1184,859.15 1184,877.27 C1184,894.18 1175.2,912.3 1162,912.3 C1148.8,912.3 1140,894.18 1140,877.27 C1140,859.15 1148.8,851.9 1162,851.9 Z"/><path fill="#C8CCD4" d="M1134.5,888.14 C1133.5,847.5 1145.5,841.5 1162,841.5 C1178.5,841.5 1190.5,847.5 1189.5,888.14 L1184,882.1 C1184,854.9 1173,851.9 1162,851.9 C1151,851.9 1140,854.9 1140,882.1 Z"/><ellipse fill="#2A1C18" cx="1152.76" cy="873.64" rx="3.08" ry="1.32"/><path fill="none" stroke="#2A1C18" stroke-opacity="0.6" stroke-width="1.2" d="M1147.92,868.51 Q1152.76,867 1157.6,868.51"/><ellipse fill="#2A1C18" cx="1171.24" cy="873.64" rx="3.08" ry="1.32"/><path fill="none" stroke="#2A1C18" stroke-opacity="0.6" stroke-width="1.2" d="M1166.4,868.51 Q1171.24,867 1176.08,868.51"/><path fill="none" stroke="#000" stroke-opacity="0.18" stroke-width="1.4" d="M1158.92,889.35 Q1162,891.76 1165.08,889.35"/><ellipse fill="#C06060" opacity="0.85" cx="1162" cy="900" rx="7.48" ry="1.98"/></g></svg><svg width="2048" height="1536" style="left:0;top:0"><defs><clipPath id="pc13"><rect x="1109" y="916.4" width="121" height="149"/></clipPath><radialGradient id="fg13" cx="0.42" cy="0.42" r="0.65"><stop offset="0" stop-color="#815E4E"/><stop offset="0.7" stop-color="#704836"/><stop offset="1" stop-color="#5C3B2C"/></radialGradient><linearGradient id="sg13" x1="0" y1="0" x2="1" y2="0.4"><stop offset="0" stop-color="#EFEFF3"/><stop offset="1" stop-color="#D1D1D5"/></linearGradient></defs><g clip-path="url(#pc13)"><g filter="url(#shblur)" opacity="0.38" transform="translate(5,2)"><path d="M1109.3,1068.4 C1109.3,1045.7 1109.3,1039.7 1119.3,1036.7 L1147.7,1028.7 L1182.9,1028.7 L1214.6,1039 C1224.6,1042 1224.6,1048 1224.6,1068.4 Z"/><path d="M1138.85,1015.4 C1136.85,954.2 1189.15,954.2 1187.15,1015.4 C1177.49,1031.4 1148.51,1031.4 1138.85,1015.4 Z"/></g><path fill="url(#sg13)" d="M1109.3,1068.4 C1109.3,1045.7 1109.3,1039.7 1119.3,1036.7 L1147.7,1028.7 L1182.9,1028.7 L1214.6,1039 C1224.6,1042 1224.6,1048 1224.6,1068.4 Z"/><polygon fill="#704836" points="1148,1017.4 1180,1017.4 1180,1028.7 1164,1045 1148,1028.7"/><polygon fill="#000" opacity="0.25" points="1148,1023.4 1180,1023.4 1164,1035.4"/><ellipse fill="#704836" cx="1138" cy="993.41" rx="4" ry="8"/><ellipse fill="#704836" cx="1188" cy="993.41" rx="4" ry="8"/><path fill="url(#fg13)" d="M1163,967.8 C1177.1,967.8 1186.5,974.71 1186.5,991.99 C1186.5,1008.12 1177.1,1025.4 1163,1025.4 C1148.9,1025.4 1139.5,1008.12 1139.5,991.99 C1139.5,974.71 1148.9,967.8 1163,967.8 Z"/><path fill="#141414" d="M1138.85,987 C1137.85,966.2 1148.51,960.2 1163,960.2 C1177.49,960.2 1188.15,966.2 1187.15,987 L1183.68,987 C1182.74,975.8 1172.4,973.8 1163,973.8 C1153.6,973.8 1143.26,975.8 1142.32,987 Z"/><ellipse fill="#2A1C18" cx="1153.13" cy="994.1" rx="3.29" ry="1.41"/><path fill="none" stroke="#2A1C18" stroke-opacity="0.6" stroke-width="1.2" d="M1147.96,989.72 Q1153.13,988.43 1158.3,989.72"/><ellipse fill="#2A1C18" cx="1172.87" cy="994.1" rx="3.29" ry="1.41"/><path fill="none" stroke="#2A1C18" stroke-opacity="0.6" stroke-width="1.2" d="M1167.7,989.72 Q1172.87,988.43 1178.04,989.72"/><path fill="none" stroke="#000" stroke-opacity="0.18" stroke-width="1.4" d="M1159.71,1005.79 Q1163,1007.86 1166.29,1005.79"/><ellipse fill="#8A4A40" opacity="0.85" cx="1163" cy="1013" rx="7.99" ry="2.11"/></g></svg><svg width="2048" height="1536" style="left:0;top:0"><defs><clipPath id="pc14"><rect x="1567" y="794.7" width="120.5" height="149.3"/></clipPath><radialGradient id="fg14" cx="0.42" cy="0.42" r="0.65"><stop offset="0" stop-color="#E4B69D"/><stop offset="0.7" stop-color="#E0AC90"/><stop offset="1" stop-color="#B88D76"/></radialGradient><linearGradient id="sg14" x1="0" y1="0" x2="1" y2="0.4"><stop offset="0" stop-color="#BC7962"/><stop offset="1" stop-color="#A2634D"/></linearGradient></defs><g clip-path="url(#pc14)"><g filter="url(#shblur)" opacity="0.38" transform="translate(5,2)"><path d="M1568.2,947 C1568.2,929.3 1572.6,923.3 1582.6,920.3 L1605.5,912.3 L1651.7,912.3 L1672.4,920.3 C1682.4,923.3 1683.5,929.3 1683.5,947 Z"/><path d="M1600,886.9 C1598,828.3 1654.8,828.3 1652.8,886.9 C1642.24,902.9 1610.56,902.9 1600,886.9 Z"/></g><path fill="#C99A9A" d="M1600,882.9 C1598,844.3 1610.56,834.3 1626.4,834.3 C1642.24,834.3 1654.8,844.3 1652.8,882.9 C1658.8,913 1636.4,919 1626.4,919 C1616.4,919 1594,913 1600,882.9 Z"/><path fill="url(#sg14)" d="M1568.2,947 C1568.2,929.3 1572.6,923.3 1582.6,920.3 L1605.5,912.3 L1651.7,912.3 L1672.4,920.3 C1682.4,923.3 1683.5,929.3 1683.5,947 Z"/><path fill="#C99A9A" d="M1598,890.9 C1596,923 1620.4,927 1626.4,925 C1632.4,927 1656.8,923 1654.8,890.9 Z"/><polygon fill="#F6F4F2" points="1608.8,916.7 1649.5,916.7 1649.5,945 1608.8,945"/><path fill="url(#fg14)" d="M1626.4,844.2 C1637.59,844.2 1645.05,850.52 1645.05,866.33 C1645.05,881.09 1637.59,896.9 1626.4,896.9 C1615.21,896.9 1607.75,881.09 1607.75,866.33 C1607.75,850.52 1615.21,844.2 1626.4,844.2 Z"/><path fill="#C99A9A" d="M1600,875.82 C1599,840.3 1610.56,834.3 1626.4,834.3 C1642.24,834.3 1653.8,840.3 1652.8,875.82 L1645.05,870.55 C1645.05,847.2 1635.73,844.2 1626.4,844.2 C1617.08,844.2 1607.75,847.2 1607.75,870.55 Z"/><ellipse fill="#2A1C18" cx="1618.57" cy="863.17" rx="2.61" ry="1.12"/><path fill="none" stroke="#2A1C18" stroke-opacity="0.6" stroke-width="1.2" d="M1614.46,858.69 Q1618.57,857.38 1622.67,858.69"/><ellipse fill="#2A1C18" cx="1634.23" cy="863.17" rx="2.61" ry="1.12"/><path fill="none" stroke="#2A1C18" stroke-opacity="0.6" stroke-width="1.2" d="M1630.13,858.69 Q1634.23,857.38 1638.34,858.69"/><path fill="none" stroke="#000" stroke-opacity="0.18" stroke-width="1.4" d="M1623.79,876.87 Q1626.4,878.98 1629.01,876.87"/><ellipse fill="#D06050" opacity="0.85" cx="1626.4" cy="886" rx="6.34" ry="1.68"/></g></svg><svg width="2048" height="1536" style="left:0;top:0"><defs><clipPath id="pc15"><rect x="1566" y="916.4" width="121.5" height="149"/></clipPath><radialGradient id="fg15" cx="0.42" cy="0.42" r="0.65"><stop offset="0" stop-color="#EBC8B2"/><stop offset="0.7" stop-color="#E8C0A8"/><stop offset="1" stop-color="#BE9D8A"/></radialGradient><linearGradient id="sg15" x1="0" y1="0" x2="1" y2="0.4"><stop offset="0" stop-color="#262628"/><stop offset="1" stop-color="#151517"/></linearGradient></defs><g clip-path="url(#pc15)"><g filter="url(#shblur)" opacity="0.38" transform="translate(5,2)"><path d="M1566,1068.4 C1566,1047.9 1568.2,1041.9 1578.2,1038.9 L1596.7,1035.3 L1651.7,1035.3 L1673.5,1039 C1683.5,1042 1683.5,1048 1683.5,1068.4 Z"/><path d="M1596.7,1008.9 C1594.7,949.8 1653.7,949.8 1651.7,1008.9 C1640.7,1024.9 1607.7,1024.9 1596.7,1008.9 Z"/></g><path fill="#151518" d="M1596.7,1004.9 C1594.7,965.8 1607.7,955.8 1624.2,955.8 C1640.7,955.8 1653.7,965.8 1651.7,1004.9 C1657.7,1036 1634.2,1042 1624.2,1042 C1614.2,1042 1590.7,1036 1596.7,1004.9 Z"/><path fill="url(#sg15)" d="M1566,1068.4 C1566,1047.9 1568.2,1041.9 1578.2,1038.9 L1596.7,1035.3 L1651.7,1035.3 L1673.5,1039 C1683.5,1042 1683.5,1048 1683.5,1068.4 Z"/><path fill="#151518" d="M1594.7,1012.9 C1592.7,1046 1618.2,1050 1624.2,1048 C1630.2,1050 1655.7,1046 1653.7,1012.9 Z"/><polygon fill="#F2F4F8" points="1605.5,1044 1640.7,1044 1636,1066 1610,1066"/><polygon fill="#151518" points="1621,1046 1627.5,1046 1629,1066 1619,1066"/><path fill="url(#fg15)" d="M1624.2,969.4 C1636.71,969.4 1645.05,975.34 1645.05,990.19 C1645.05,1004.05 1636.71,1018.9 1624.2,1018.9 C1611.69,1018.9 1603.35,1004.05 1603.35,990.19 C1603.35,975.34 1611.69,969.4 1624.2,969.4 Z"/><path fill="#151518" d="M1596.7,999.1 C1595.7,961.8 1607.7,955.8 1624.2,955.8 C1640.7,955.8 1652.7,961.8 1651.7,999.1 L1645.05,994.15 C1645.05,972.4 1634.62,969.4 1624.2,969.4 C1613.78,969.4 1603.35,972.4 1603.35,994.15 Z"/><ellipse fill="#2A1C18" cx="1615.44" cy="987.22" rx="2.92" ry="1.25"/><path fill="none" stroke="#2A1C18" stroke-opacity="0.6" stroke-width="1.2" d="M1610.86,983.01 Q1615.44,981.77 1620.03,983.01"/><ellipse fill="#2A1C18" cx="1632.96" cy="987.22" rx="2.92" ry="1.25"/><path fill="none" stroke="#2A1C18" stroke-opacity="0.6" stroke-width="1.2" d="M1628.37,983.01 Q1632.96,981.77 1637.54,983.01"/><path fill="none" stroke="#000" stroke-opacity="0.18" stroke-width="1.4" d="M1621.28,1000.09 Q1624.2,1002.07 1627.12,1000.09"/><ellipse fill="#8A4A40" opacity="0.85" cx="1624" cy="1009" rx="7.09" ry="1.88"/></g></svg><svg width="2048" height="1536" style="left:0;top:0"><defs><clipPath id="pc16"><rect x="1569.3" y="1038" width="120.4" height="150"/></clipPath><radialGradient id="fg16" cx="0.42" cy="0.42" r="0.65"><stop offset="0" stop-color="#9A7059"/><stop offset="0.7" stop-color="#8C5C42"/><stop offset="1" stop-color="#734B36"/></radialGradient><linearGradient id="sg16" x1="0" y1="0" x2="1" y2="0.4"><stop offset="0" stop-color="#AB845C"/><stop offset="1" stop-color="#926D48"/></linearGradient></defs><g clip-path="url(#pc16)"><g filter="url(#shblur)" opacity="0.38" transform="translate(5,2)"><path d="M1570.4,1191 C1570.4,1158.3 1571.5,1152.3 1581.5,1149.3 L1599,1145.7 L1656,1145.7 L1674.6,1151.5 C1684.6,1154.5 1685.7,1160.5 1685.7,1191 Z"/><path d="M1603.45,1128 C1601.45,1069.8 1657.15,1069.8 1655.15,1128 C1644.81,1144 1613.79,1144 1603.45,1128 Z"/></g><path fill="url(#sg16)" d="M1570.4,1191 C1570.4,1158.3 1571.5,1152.3 1581.5,1149.3 L1599,1145.7 L1656,1145.7 L1674.6,1151.5 C1684.6,1154.5 1685.7,1160.5 1685.7,1191 Z"/><rect fill="#8C5C42" x="1613.8" y="1128" width="31" height="19.7"/><polygon fill="#000" opacity="0.22" points="1613.8,1136 1644.8,1136 1629.3,1147"/><polygon fill="#F6F6F6" points="1595.6,1150 1664.9,1150 1647.3,1189 1621,1189"/><ellipse fill="#8C5C42" cx="1602.8" cy="1111.34" rx="4" ry="8"/><ellipse fill="#8C5C42" cx="1655.8" cy="1111.34" rx="4" ry="8"/><path fill="url(#fg16)" d="M1629.3,1089 C1644.3,1089 1654.3,1094.88 1654.3,1109.58 C1654.3,1123.3 1644.3,1138 1629.3,1138 C1614.3,1138 1604.3,1123.3 1604.3,1109.58 C1604.3,1094.88 1614.3,1089 1629.3,1089 Z"/><path fill="#151515" d="M1603.45,1110.5 C1602.45,1081.8 1613.79,1075.8 1629.3,1075.8 C1644.81,1075.8 1656.15,1081.8 1655.15,1110.5 L1651.3,1110.5 C1650.3,1097 1639.3,1095 1629.3,1095 C1619.3,1095 1608.3,1097 1607.3,1110.5 Z"/><ellipse fill="#2A1C18" cx="1618.8" cy="1108.14" rx="3.5" ry="1.5"/><path fill="none" stroke="#2A1C18" stroke-opacity="0.6" stroke-width="1.2" d="M1613.3,1104.49 Q1618.8,1103.41 1624.3,1104.49"/><ellipse fill="#2A1C18" cx="1639.8" cy="1108.14" rx="3.5" ry="1.5"/><path fill="none" stroke="#2A1C18" stroke-opacity="0.6" stroke-width="1.2" d="M1634.3,1104.49 Q1639.8,1103.41 1645.3,1104.49"/><path fill="none" stroke="#000" stroke-opacity="0.18" stroke-width="1.4" d="M1625.8,1121.66 Q1629.3,1123.38 1632.8,1121.66"/><ellipse fill="#8A4A40" opacity="0.85" cx="1629.3" cy="1126" rx="8.5" ry="2.25"/></g></svg><svg width="2048" height="1536" style="left:0;top:0"><defs><clipPath id="pc17"><rect x="1568.6" y="1162.6" width="121.4" height="149"/></clipPath><radialGradient id="fg17" cx="0.42" cy="0.42" r="0.65"><stop offset="0" stop-color="#E4BDAF"/><stop offset="0.7" stop-color="#E0B4A4"/><stop offset="1" stop-color="#B89486"/></radialGradient><linearGradient id="sg17" x1="0" y1="0" x2="1" y2="0.4"><stop offset="0" stop-color="#2A2A2D"/><stop offset="1" stop-color="#19191C"/></linearGradient></defs><g clip-path="url(#pc17)"><g filter="url(#shblur)" opacity="0.38" transform="translate(5,2)"><path d="M1568.6,1314.6 C1568.6,1296.7 1570.4,1290.7 1580.4,1287.7 L1610,1275.3 L1649.5,1275.3 L1676.8,1289.9 C1686.8,1292.9 1689.5,1298.9 1689.5,1314.6 Z"/><path d="M1600,1259.8 C1598,1192.4 1659.2,1192.4 1657.2,1259.8 C1645.76,1275.8 1611.44,1275.8 1600,1259.8 Z"/></g><path fill="url(#sg17)" d="M1568.6,1314.6 C1568.6,1296.7 1570.4,1290.7 1580.4,1287.7 L1610,1275.3 L1649.5,1275.3 L1676.8,1289.9 C1686.8,1292.9 1689.5,1298.9 1689.5,1314.6 Z"/><polygon fill="#E0B4A4" points="1611,1261.8 1648,1261.8 1648,1275.3 1629.7,1310.5 1611,1275.3"/><polygon fill="#000" opacity="0.25" points="1611,1267.8 1648,1267.8 1629.7,1279.8"/><ellipse fill="#E0B4A4" cx="1601.8" cy="1235.08" rx="4" ry="8"/><ellipse fill="#E0B4A4" cx="1655.4" cy="1235.08" rx="4" ry="8"/><path fill="url(#fg17)" d="M1628.6,1207.8 C1643.78,1207.8 1653.9,1215.24 1653.9,1233.84 C1653.9,1251.2 1643.78,1269.8 1628.6,1269.8 C1613.42,1269.8 1603.3,1251.2 1603.3,1233.84 C1603.3,1215.24 1613.42,1207.8 1628.6,1207.8 Z"/><path fill="#151515" d="M1600,1246.8 C1599,1204.4 1611.44,1198.4 1628.6,1198.4 C1645.76,1198.4 1658.2,1204.4 1657.2,1246.8 L1650.86,1246.8 C1649.85,1215.8 1638.72,1213.8 1628.6,1213.8 C1618.48,1213.8 1607.35,1215.8 1606.34,1246.8 Z"/><ellipse fill="#2A1C18" cx="1617.97" cy="1235.53" rx="3.54" ry="1.52"/><path fill="none" stroke="#2A1C18" stroke-opacity="0.6" stroke-width="1.2" d="M1612.41,1230.77 Q1617.97,1229.37 1623.54,1230.77"/><ellipse fill="#2A1C18" cx="1639.23" cy="1235.53" rx="3.54" ry="1.52"/><path fill="none" stroke="#2A1C18" stroke-opacity="0.6" stroke-width="1.2" d="M1633.66,1230.77 Q1639.23,1229.37 1644.79,1230.77"/><path fill="none" stroke="#000" stroke-opacity="0.18" stroke-width="1.4" d="M1625.06,1248.52 Q1628.6,1250.76 1632.14,1248.52"/><ellipse fill="#8A4A40" opacity="0.85" cx="1628.6" cy="1257" rx="8.6" ry="2.28"/></g></svg>
<div class="t b tt" style="left:570px;top:37.8px;font-size:79.943px;line-height:79.943px;color:#000;transform:scaleX(0.9397)">STRUKTUR ORGANISASI</div><div class="t b tt" style="left:582px;top:123.7px;font-size:79.943px;line-height:79.943px;color:#000;transform:scaleX(0.9574)">JURUSAN MANAJEMEN</div><div class="t b" style="left:851.7px;top:324.5px;font-size:30.814px;line-height:30.814px;color:#FFFFFF;transform:scaleX(0.9778)">DR. APRIANTO L. KUDDY, SE., M.S.A., AK</div><div class="t" style="left:852px;top:359.8px;font-size:30.814px;line-height:30.814px;color:#FFFFFF;transform:scaleX(0.9785)">KETUA JURUSAN</div><div class="t b" style="left:1304px;top:484px;font-size:31.977px;line-height:31.977px;color:#FFFFFF;transform:scaleX(0.9918)">MIKE S. TOKORO, SE., MM</div><div class="t" style="left:1305px;top:523px;font-size:26.163px;line-height:26.163px;color:#FFFFFF;transform:scaleX(0.9429)">SEKRETARIS JURUSAN</div><div class="t b" style="left:419px;top:537px;font-size:21.076px;line-height:21.076px;color:#FFFFFF;transform:scaleX(0.9873)">DR. ANITA ERARI, SE., M.SC., AGR</div><div class="t" style="left:418px;top:563px;font-size:21.076px;line-height:21.076px;color:#FFFFFF;transform:scaleX(1.0015)">UNIT PENJAMINAN MUTU</div><div class="t" style="left:419px;top:582px;font-size:21.076px;line-height:21.076px;color:#FFFFFF;transform:scaleX(0.9876)">JURUSAN MANAJEMEN</div><div class="t b" style="left:178px;top:734.8px;font-size:20.349px;line-height:20.349px;color:#FFFFFF;transform:scaleX(1.0177)">GRACE RUMBIAK, SE., MM</div><div class="t" style="left:177px;top:761px;font-size:20.349px;line-height:20.349px;color:#FFFFFF;transform:scaleX(0.9881)">KORD. PROGRAM STUDI</div><div class="t" style="left:177px;top:781.7px;font-size:20.349px;line-height:20.349px;color:#FFFFFF;transform:scaleX(1.0404)">MANAJEMEN</div><div class="t b" style="left:650px;top:734px;font-size:20.349px;line-height:20.349px;color:#FFFFFF;transform:scaleX(1.0359)">DR. JACK SYAUTA, SE., M.SC., AGR</div><div class="t" style="left:649px;top:760.7px;font-size:20.349px;line-height:20.349px;color:#FFFFFF;transform:scaleX(0.9873)">KORD. PROGRAM STUDI</div><div class="t" style="left:649px;top:781.4px;font-size:20.349px;line-height:20.349px;color:#FFFFFF;transform:scaleX(1.0137)">MAGISTER MANAJEMEN</div><div class="t b" style="left:1188px;top:734.5px;font-size:20.349px;line-height:20.349px;color:#FFFFFF;transform:scaleX(1.0346)">PROF. DR. B. KAMBUAYA, MBA</div><div class="t" style="left:1187px;top:761.2px;font-size:20.349px;line-height:20.349px;color:#FFFFFF;transform:scaleX(0.9906)">KORD. PROGRAM STUDI</div><div class="t" style="left:1187px;top:781.6px;font-size:20.349px;line-height:20.349px;color:#FFFFFF;transform:scaleX(1.0250)">DOKTOR ILMU MANAJEMEN</div><div class="t b" style="left:1691px;top:734.3px;font-size:20.349px;line-height:20.349px;color:#FFFFFF;transform:scaleX(1.0263)">M. S.&nbsp; SOUMOKIL, SE.,M.EC,DEV</div><div class="t" style="left:1690px;top:760.8px;font-size:20.349px;line-height:20.349px;color:#FFFFFF;transform:scaleX(1.0123)">KEPALA LABORATORIUM</div><div class="t" style="left:1690px;top:781.8px;font-size:20.349px;line-height:20.349px;color:#FFFFFF;transform:scaleX(1.0009)">KOMPUTER</div><div class="t b" style="left:310px;top:874.3px;font-size:23.983px;line-height:23.983px;color:#FFFFFF;transform:scaleX(0.9693)">IRIANTI, SE</div><div class="t" style="left:311px;top:904.7px;font-size:20.785px;line-height:20.785px;color:#FFFFFF;transform:scaleX(0.9942)">STAF ADMINISTRASI</div><div class="t b" style="left:310px;top:995.6px;font-size:23.983px;line-height:23.983px;color:#FFFFFF;transform:scaleX(0.9869)">DONI TUPAMAHU, SE</div><div class="t" style="left:313.8px;top:1026px;font-size:20.785px;line-height:20.785px;color:#FFFFFF;transform:scaleX(0.9727)">STAF OPERATOR</div><div class="t b" style="left:765px;top:873.7px;font-size:23.983px;line-height:23.983px;color:#FFFFFF;transform:scaleX(0.9550)">MAURITS RONSUMBRE, SE</div><div class="t" style="left:766px;top:905.4px;font-size:20.785px;line-height:20.785px;color:#FFFFFF;transform:scaleX(0.9946)">STAF ANDMINISTRASI</div><div class="t b" style="left:765px;top:996px;font-size:23.983px;line-height:23.983px;color:#FFFFFF;transform:scaleX(0.9846)">MARYO RISAMASU, SH</div><div class="t" style="left:764px;top:1026px;font-size:20.785px;line-height:20.785px;color:#FFFFFF;transform:scaleX(0.9657)">STAF OPERATOR</div><div class="t b" style="left:1242.7px;top:871.4px;font-size:23.983px;line-height:23.983px;color:#FFFFFF;transform:scaleX(0.9974)">WIWIT WULANDARI, MM</div><div class="t" style="left:1245px;top:901.9px;font-size:20.785px;line-height:20.785px;color:#FFFFFF;transform:scaleX(0.9892)">STAF ADMINISTRASI</div><div class="t b" style="left:1241.7px;top:993.4px;font-size:23.983px;line-height:23.983px;color:#FFFFFF;transform:scaleX(0.9308)">PIETER IEK, SH</div><div class="t" style="left:1241.7px;top:1023.4px;font-size:20.785px;line-height:20.785px;color:#FFFFFF;transform:scaleX(0.9669)">STAF OPERATOR</div><div class="t b" style="left:1696.8px;top:871.9px;font-size:21.076px;line-height:21.076px;color:#FFFFFF;transform:scaleX(1.0089)">NENI SETIARINI, MM</div><div class="t" style="left:1696.8px;top:898.7px;font-size:17.297px;line-height:17.297px;color:#FFFFFF;transform:scaleX(0.9835)">PIC REPOSITORI &amp; PENGELOLA</div><div class="t" style="left:1697.8px;top:915.4px;font-size:17.297px;line-height:17.297px;color:#FFFFFF;transform:scaleX(1.0059)">JURNAL</div><div class="t b" style="left:1694.6px;top:991.4px;font-size:21.076px;line-height:21.076px;color:#FFFFFF;transform:scaleX(1.0298)">HESTI MURWANIPUTRI, MM</div><div class="t" style="left:1694.6px;top:1019.6px;font-size:17.297px;line-height:17.297px;color:#FFFFFF;transform:scaleX(1.0200)">PIC PENGEMBANGAN</div><div class="t" style="left:1695.6px;top:1036.7px;font-size:17.297px;line-height:17.297px;color:#FFFFFF;transform:scaleX(1.0219)">WIRAUSAHA MAHASISWA</div><div class="t b" style="left:1697.8px;top:1119px;font-size:21.076px;line-height:21.076px;color:#FFFFFF;transform:scaleX(1.0106)">WIHELMINA ARFUSAU, MBA</div><div class="t" style="left:1696.8px;top:1146.6px;font-size:17.297px;line-height:17.297px;color:#FFFFFF;transform:scaleX(1.0148)">PIC HUBUNGAN INTERNASIONAL</div><div class="t b" style="left:1696.8px;top:1236.5px;font-size:21.076px;line-height:21.076px;color:#FFFFFF;transform:scaleX(1.0290)">FANNY SITOMPUL, M.PSDM</div><div class="t" style="left:1696.8px;top:1265.7px;font-size:17.297px;line-height:17.297px;color:#FFFFFF;transform:scaleX(1.0050)">PIC PENGEMBANGAN KARIR</div><div class="t" style="left:1696.8px;top:1282.9px;font-size:17.297px;line-height:17.297px;color:#FFFFFF;transform:scaleX(1.0321)">MAHASISWA</div><div class="t b" style="left:942.2px;top:1308.9px;font-size:32.849px;line-height:32.849px;color:#FFFFFF;transform:scaleX(0.9608)">FORUM DOSEN</div><div class="t" style="left:918px;top:1343px;font-size:27.181px;line-height:27.181px;color:#FFFFFF;transform:scaleX(0.9513)">JURUSAN MANAJEMEN</div><div class="t" style="left:296.5px;top:1439.5px;font-size:35.030px;line-height:35.030px;color:#0A0A0A;transform:scaleX(1.0579)">www.man.feb.uncen.ac.id</div><div class="t" style="left:808px;top:1439.5px;font-size:35.030px;line-height:35.030px;color:#0A0A0A;transform:scaleX(1.0367)">man.febuncen@gmail.com</div><div class="t" style="left:1347px;top:1441.5px;font-size:35.756px;line-height:35.756px;color:#0A0A0A;transform:scaleX(1.0097)">Jl. Kampwolker, Kampus Waena</div>
<svg width="2048" height="1536" viewBox="0 0 2048 1536" style="pointer-events:none">
<rect x="316.2" y="1043.2" width="3.6" height="23" fill="#000"/>
<g fill="#CC1A1D"><rect x="107.8" y="1248.4" width="13.4" height="13.4" rx="3.5"/><rect x="126.2" y="1248.4" width="13.4" height="13.4" rx="3.5"/><rect x="144.6" y="1248.4" width="13.4" height="13.4" rx="3.5"/><rect x="163" y="1248.4" width="13.4" height="13.4" rx="3.5"/><rect x="181.4" y="1248.4" width="13.4" height="13.4" rx="3.5"/><rect x="199.8" y="1248.4" width="13.4" height="13.4" rx="3.5"/><rect x="218.2" y="1248.4" width="13.4" height="13.4" rx="3.5"/><rect x="124.1" y="1268.6" width="13.4" height="13.4" rx="3.5"/><rect x="142.5" y="1268.6" width="13.4" height="13.4" rx="3.5"/><rect x="160.9" y="1268.6" width="13.4" height="13.4" rx="3.5"/><rect x="179.3" y="1268.6" width="13.4" height="13.4" rx="3.5"/><rect x="197.7" y="1268.6" width="13.4" height="13.4" rx="3.5"/><rect x="216.1" y="1268.6" width="13.4" height="13.4" rx="3.5"/><rect x="234.5" y="1268.6" width="13.4" height="13.4" rx="3.5"/><rect x="107.8" y="1290.8" width="13.4" height="13.4" rx="3.5"/><rect x="126.2" y="1290.8" width="13.4" height="13.4" rx="3.5"/><rect x="144.6" y="1290.8" width="13.4" height="13.4" rx="3.5"/><rect x="163" y="1290.8" width="13.4" height="13.4" rx="3.5"/><rect x="181.4" y="1290.8" width="13.4" height="13.4" rx="3.5"/><rect x="199.8" y="1290.8" width="13.4" height="13.4" rx="3.5"/><rect x="218.2" y="1290.8" width="13.4" height="13.4" rx="3.5"/></g>
<g>
<circle cx="259.5" cy="1461.5" r="23.5" fill="#CF2027"/>
<g fill="none" stroke="#fff" stroke-width="1.8">
<circle cx="259.5" cy="1461.5" r="20"/>
<ellipse cx="259.5" cy="1461.5" rx="9" ry="20"/>
<line x1="259.5" y1="1441.5" x2="259.5" y2="1481.5"/>
<line x1="240" y1="1461.5" x2="279" y2="1461.5"/>
<path d="M243,1450.5 C254,1447 265,1447 276,1450.5"/>
<path d="M243,1472.5 C254,1476 265,1476 276,1472.5"/>
</g></g><g>
<circle cx="769" cy="1460" r="25" fill="#C41E2C"/>
<rect x="754" y="1450" width="30" height="20" fill="#fff"/>
<path d="M754.8,1450.8 L769,1462 L783.2,1450.8 M754.8,1469.2 L765,1459.5 M783.2,1469.2 L773,1459.5" fill="none" stroke="#C41E2C" stroke-width="1.6"/>
</g><g>
<circle cx="1293" cy="1460.5" r="26" fill="#C41E2C"/>
<path fill="#fff" d="M1293,1472 C1289,1464 1284,1458 1284,1452 C1284,1446.5 1288,1443 1293,1443 C1298,1443 1302,1446.5 1302,1452 C1302,1458 1297,1464 1293,1472 Z"/>
<circle cx="1293" cy="1451.5" r="3.8" fill="#C41E2C"/>
<ellipse cx="1293" cy="1474" rx="10" ry="3" fill="none" stroke="#fff" stroke-width="1.4"/>
</g>
</svg>
</body></html>
